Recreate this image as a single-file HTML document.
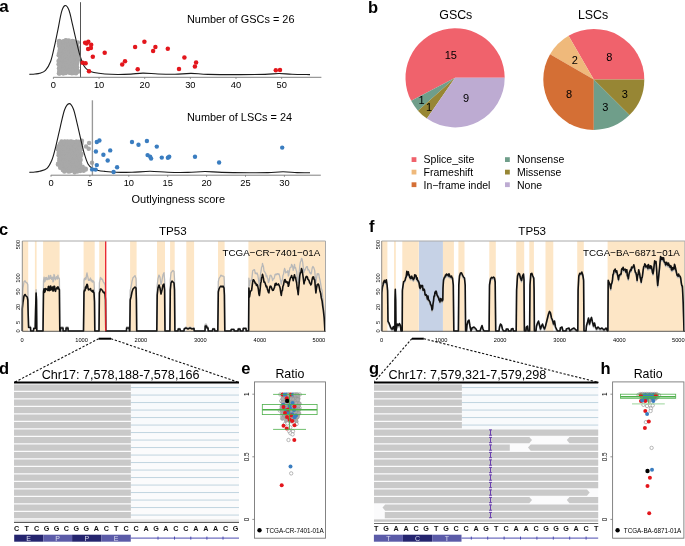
<!DOCTYPE html>
<html><head><meta charset="utf-8"><style>
html,body{margin:0;padding:0;background:#fff;}
svg{display:block;will-change:transform;}
text{font-family:"Liberation Sans", sans-serif;}
</style></head><body>
<svg width="685" height="546" viewBox="0 0 685 546" font-family="Liberation Sans, sans-serif">
<rect width="685" height="546" fill="#fff"/>
<text x="-0.8" y="11.6" font-size="17" text-anchor="start" font-weight="bold" fill="#000" >a</text>
<g fill="#a8a8a8"><circle cx="65.22" cy="41.27" r="2.25"/><circle cx="67.73" cy="41.49" r="2.25"/><circle cx="60.64" cy="42.1" r="2.25"/><circle cx="62.73" cy="42.44" r="2.25"/><circle cx="65.31" cy="42.68" r="2.25"/><circle cx="67.53" cy="43.01" r="2.25"/><circle cx="69.05" cy="43.14" r="2.25"/><circle cx="72.01" cy="43.24" r="2.25"/><circle cx="73.09" cy="42.32" r="2.25"/><circle cx="75.71" cy="42.89" r="2.25"/><circle cx="59.31" cy="44.47" r="2.25"/><circle cx="61.62" cy="44.75" r="2.25"/><circle cx="63.95" cy="45.23" r="2.25"/><circle cx="66.59" cy="44.87" r="2.25"/><circle cx="68.6" cy="45.28" r="2.25"/><circle cx="70.4" cy="44.93" r="2.25"/><circle cx="72.96" cy="44.73" r="2.25"/><circle cx="74.09" cy="45.12" r="2.25"/><circle cx="76.32" cy="45.05" r="2.25"/><circle cx="59.91" cy="46.25" r="2.25"/><circle cx="63.12" cy="45.9" r="2.25"/><circle cx="64.16" cy="46.85" r="2.25"/><circle cx="67.53" cy="47.21" r="2.25"/><circle cx="69.9" cy="46.28" r="2.25"/><circle cx="71.54" cy="45.89" r="2.25"/><circle cx="73.47" cy="46.7" r="2.25"/><circle cx="75.16" cy="47.06" r="2.25"/><circle cx="59.94" cy="49.01" r="2.25"/><circle cx="61.44" cy="48.48" r="2.25"/><circle cx="63.83" cy="48.54" r="2.25"/><circle cx="66.52" cy="48.47" r="2.25"/><circle cx="68.41" cy="48.09" r="2.25"/><circle cx="70.97" cy="48.49" r="2.25"/><circle cx="71.82" cy="48.34" r="2.25"/><circle cx="74.03" cy="48.62" r="2.25"/><circle cx="76.28" cy="48.63" r="2.25"/><circle cx="60.65" cy="50.16" r="2.25"/><circle cx="62.93" cy="49.7" r="2.25"/><circle cx="65.05" cy="51.02" r="2.25"/><circle cx="66.94" cy="50.5" r="2.25"/><circle cx="69.01" cy="50.11" r="2.25"/><circle cx="71.53" cy="50.09" r="2.25"/><circle cx="73.98" cy="49.71" r="2.25"/><circle cx="76.13" cy="50.1" r="2.25"/><circle cx="59.73" cy="51.92" r="2.25"/><circle cx="61.41" cy="52.56" r="2.25"/><circle cx="63.45" cy="52.05" r="2.25"/><circle cx="65.81" cy="52.78" r="2.25"/><circle cx="67.87" cy="52.49" r="2.25"/><circle cx="70.23" cy="51.9" r="2.25"/><circle cx="72.54" cy="51.85" r="2.25"/><circle cx="75.17" cy="51.84" r="2.25"/><circle cx="77.33" cy="52.48" r="2.25"/><circle cx="60.18" cy="53.68" r="2.25"/><circle cx="63.01" cy="53.88" r="2.25"/><circle cx="64.68" cy="54.09" r="2.25"/><circle cx="67.59" cy="53.72" r="2.25"/><circle cx="69.82" cy="54.73" r="2.25"/><circle cx="71.31" cy="54.83" r="2.25"/><circle cx="73.21" cy="54.54" r="2.25"/><circle cx="76.03" cy="54.22" r="2.25"/><circle cx="60.9" cy="56.24" r="2.25"/><circle cx="64.13" cy="55.48" r="2.25"/><circle cx="66.17" cy="56.71" r="2.25"/><circle cx="68.66" cy="56.22" r="2.25"/><circle cx="70.64" cy="55.65" r="2.25"/><circle cx="72.73" cy="56.15" r="2.25"/><circle cx="75.31" cy="56.27" r="2.25"/><circle cx="76.55" cy="56.62" r="2.25"/><circle cx="60.8" cy="57.82" r="2.25"/><circle cx="62.65" cy="58.47" r="2.25"/><circle cx="65.21" cy="58.62" r="2.25"/><circle cx="67.45" cy="57.34" r="2.25"/><circle cx="69.71" cy="57.4" r="2.25"/><circle cx="71.08" cy="58.06" r="2.25"/><circle cx="73.56" cy="58.41" r="2.25"/><circle cx="75.18" cy="57.5" r="2.25"/><circle cx="62" cy="59.36" r="2.25"/><circle cx="63.44" cy="59.68" r="2.25"/><circle cx="66.11" cy="60.06" r="2.25"/><circle cx="67.67" cy="59.7" r="2.25"/><circle cx="70.38" cy="60.24" r="2.25"/><circle cx="71.91" cy="59.49" r="2.25"/><circle cx="74.85" cy="60.34" r="2.25"/><circle cx="77.32" cy="60.11" r="2.25"/><circle cx="60.22" cy="61.85" r="2.25"/><circle cx="62.49" cy="62.13" r="2.25"/><circle cx="64.44" cy="61.9" r="2.25"/><circle cx="66.4" cy="61.75" r="2.25"/><circle cx="69.73" cy="62.47" r="2.25"/><circle cx="71.96" cy="62.26" r="2.25"/><circle cx="73.55" cy="61.33" r="2.25"/><circle cx="76.03" cy="62.4" r="2.25"/><circle cx="59.53" cy="64.1" r="2.25"/><circle cx="60.94" cy="63.89" r="2.25"/><circle cx="63.2" cy="64.15" r="2.25"/><circle cx="65.33" cy="63.21" r="2.25"/><circle cx="67.65" cy="63.1" r="2.25"/><circle cx="69.77" cy="64.25" r="2.25"/><circle cx="72.97" cy="64.4" r="2.25"/><circle cx="75.12" cy="63.12" r="2.25"/><circle cx="76.92" cy="64.07" r="2.25"/><circle cx="60.75" cy="66.29" r="2.25"/><circle cx="62.35" cy="65.77" r="2.25"/><circle cx="64.44" cy="65.23" r="2.25"/><circle cx="67.16" cy="66.04" r="2.25"/><circle cx="69.01" cy="65.54" r="2.25"/><circle cx="71.29" cy="65.1" r="2.25"/><circle cx="74.26" cy="65.56" r="2.25"/><circle cx="75.32" cy="65.95" r="2.25"/><circle cx="59.54" cy="67.62" r="2.25"/><circle cx="61.7" cy="68.15" r="2.25"/><circle cx="63.13" cy="67.94" r="2.25"/><circle cx="65.92" cy="67.52" r="2.25"/><circle cx="67.66" cy="67.27" r="2.25"/><circle cx="70.42" cy="67.34" r="2.25"/><circle cx="72.77" cy="68.23" r="2.25"/><circle cx="74.99" cy="67.47" r="2.25"/><circle cx="77.02" cy="67.27" r="2.25"/><circle cx="59.73" cy="69.48" r="2.25"/><circle cx="62.14" cy="69.31" r="2.25"/><circle cx="65.18" cy="69.01" r="2.25"/><circle cx="66.97" cy="69.65" r="2.25"/><circle cx="69.67" cy="69.96" r="2.25"/><circle cx="71.37" cy="69.82" r="2.25"/><circle cx="73.46" cy="69.84" r="2.25"/><circle cx="75.75" cy="69.13" r="2.25"/><circle cx="59.6" cy="71.67" r="2.25"/><circle cx="62" cy="71.06" r="2.25"/><circle cx="63.36" cy="70.99" r="2.25"/><circle cx="66.4" cy="71.98" r="2.25"/><circle cx="68.61" cy="71.16" r="2.25"/><circle cx="70.62" cy="70.84" r="2.25"/><circle cx="72.97" cy="71.13" r="2.25"/><circle cx="74.81" cy="71.67" r="2.25"/><circle cx="60.38" cy="72.93" r="2.25"/><circle cx="63.24" cy="73.19" r="2.25"/><circle cx="64.27" cy="73.02" r="2.25"/><circle cx="69.77" cy="72.77" r="2.25"/><circle cx="73.96" cy="73.05" r="2.25"/><circle cx="58.88" cy="41.46" r="2.25"/><circle cx="63.31" cy="41.26" r="2.25"/><circle cx="65.72" cy="40.2" r="2.25"/><circle cx="68.81" cy="40.58" r="2.25"/><circle cx="72.39" cy="41.12" r="2.25"/><circle cx="74.12" cy="41.43" r="2.25"/><circle cx="77.86" cy="42.44" r="2.25"/><circle cx="77.04" cy="45.87" r="2.25"/><circle cx="77.91" cy="47.45" r="2.25"/><circle cx="78.43" cy="50.45" r="2.25"/><circle cx="77.36" cy="54.46" r="2.25"/><circle cx="77.86" cy="57.13" r="2.25"/><circle cx="77.97" cy="59.92" r="2.25"/><circle cx="77.21" cy="62.42" r="2.25"/><circle cx="76.62" cy="66.39" r="2.25"/><circle cx="76.96" cy="69.78" r="2.25"/><circle cx="76.03" cy="73.15" r="2.25"/><circle cx="71.92" cy="73.19" r="2.25"/><circle cx="69.75" cy="72.58" r="2.25"/><circle cx="65.83" cy="72.94" r="2.25"/><circle cx="63.04" cy="73.14" r="2.25"/><circle cx="59" cy="73.23" r="2.25"/><circle cx="59.37" cy="70.94" r="2.25"/><circle cx="59.04" cy="68.13" r="2.25"/><circle cx="58.6" cy="64.15" r="2.25"/><circle cx="58.58" cy="60.92" r="2.25"/><circle cx="59.8" cy="59.08" r="2.25"/><circle cx="58.73" cy="55.17" r="2.25"/><circle cx="59.15" cy="53.22" r="2.25"/><circle cx="59.87" cy="50.28" r="2.25"/><circle cx="59.47" cy="46.25" r="2.25"/><circle cx="59.12" cy="43.39" r="2.25"/><circle cx="78.6" cy="71.6" r="2.25"/><circle cx="59.3" cy="40.9" r="2.25"/><circle cx="59.3" cy="73.6" r="2.25"/><circle cx="66.5" cy="40.7" r="2.25"/></g>
<path d="M29.4,74.4 C30.33,74.33 33.28,74.18 35,74 C36.72,73.82 37.95,73.92 39.7,73.3 C41.45,72.68 43.68,72.27 45.5,70.3 C47.32,68.33 49.13,65.4 50.6,61.5 C52.07,57.6 53.07,52.27 54.3,46.9 C55.53,41.53 56.78,35.17 58,29.3 C59.22,23.43 60.43,15.65 61.6,11.7 C62.77,7.75 63.77,5.83 65,5.6 C66.23,5.37 67.73,7.08 69,10.3 C70.27,13.52 71.38,19.78 72.6,24.9 C73.82,30.02 75.07,35.87 76.3,41 C77.53,46.13 78.78,51.67 80,55.7 C81.22,59.73 82.27,62.77 83.6,65.2 C84.93,67.63 86.28,69.08 88,70.3 C89.72,71.52 91.08,71.88 93.9,72.5 C96.72,73.12 100.88,73.67 104.9,74 C108.92,74.33 113.65,74.48 118,74.5 C122.35,74.52 126.83,74.33 131,74.1 C135.17,73.87 138.5,73.12 143,73.1 C147.5,73.08 152.67,73.8 158,74 C163.33,74.2 169.5,74.4 175,74.3 C180.5,74.2 185.5,73.38 191,73.4 C196.5,73.42 199.83,74.2 208,74.4 C216.17,74.6 230.5,74.6 240,74.6 C249.5,74.6 258.5,74.58 265,74.4 C271.5,74.22 274.5,73.52 279,73.5 C283.5,73.48 286.83,74.12 292,74.3 C297.17,74.48 307,74.55 310,74.6" fill="none" stroke="#1a1a1a" stroke-width="1.1"/>
<line x1="80.5" y1="2.2" x2="80.5" y2="77.3" stroke="#555" stroke-width="1"/>
<g fill="#e3161c"><circle cx="86.6" cy="43.6" r="2.25"/><circle cx="85.1" cy="42.8" r="2.25"/><circle cx="88.3" cy="41.8" r="2.25"/><circle cx="91.2" cy="44.7" r="2.25"/><circle cx="90.9" cy="47.9" r="2.25"/><circle cx="88.1" cy="49.1" r="2.25"/><circle cx="92.8" cy="56.8" r="2.25"/><circle cx="104.7" cy="52.8" r="2.25"/><circle cx="82.6" cy="62.7" r="2.25"/><circle cx="85.6" cy="63.2" r="2.25"/><circle cx="89" cy="71.2" r="2.25"/><circle cx="122.2" cy="64.5" r="2.25"/><circle cx="125" cy="61.2" r="2.25"/><circle cx="135.1" cy="47" r="2.25"/><circle cx="144.4" cy="41.8" r="2.25"/><circle cx="155.4" cy="47" r="2.25"/><circle cx="153.1" cy="50.9" r="2.25"/><circle cx="167.8" cy="48.8" r="2.25"/><circle cx="137.7" cy="69.2" r="2.25"/><circle cx="179" cy="68.9" r="2.25"/><circle cx="184.4" cy="57.5" r="2.25"/><circle cx="196.1" cy="62.6" r="2.25"/><circle cx="194.9" cy="66.6" r="2.25"/><circle cx="275.8" cy="70.3" r="2.25"/><circle cx="280" cy="70.1" r="2.25"/></g>
<line x1="53.3" y1="77.3" x2="321.4" y2="77.3" stroke="#808080" stroke-width="1"/>
<line x1="53.4" y1="77.3" x2="53.4" y2="78.8" stroke="#808080" stroke-width="1"/>
<text x="53.4" y="87.5" font-size="9.3" text-anchor="middle" fill="#000" >0</text>
<line x1="99.05" y1="77.3" x2="99.05" y2="78.8" stroke="#808080" stroke-width="1"/>
<text x="99.05" y="87.5" font-size="9.3" text-anchor="middle" fill="#000" >10</text>
<line x1="144.7" y1="77.3" x2="144.7" y2="78.8" stroke="#808080" stroke-width="1"/>
<text x="144.7" y="87.5" font-size="9.3" text-anchor="middle" fill="#000" >20</text>
<line x1="190.35" y1="77.3" x2="190.35" y2="78.8" stroke="#808080" stroke-width="1"/>
<text x="190.35" y="87.5" font-size="9.3" text-anchor="middle" fill="#000" >30</text>
<line x1="236" y1="77.3" x2="236" y2="78.8" stroke="#808080" stroke-width="1"/>
<text x="236" y="87.5" font-size="9.3" text-anchor="middle" fill="#000" >40</text>
<line x1="281.65" y1="77.3" x2="281.65" y2="78.8" stroke="#808080" stroke-width="1"/>
<text x="281.65" y="87.5" font-size="9.3" text-anchor="middle" fill="#000" >50</text>
<text x="187" y="22.6" font-size="10.9" text-anchor="start" fill="#000" >Number of GSCs = 26</text>
<g fill="#a8a8a8"><circle cx="62.74" cy="141.89" r="2.25"/><circle cx="64.55" cy="141.92" r="2.25"/><circle cx="71.26" cy="141.4" r="2.25"/><circle cx="76.18" cy="141.67" r="2.25"/><circle cx="81.5" cy="141.82" r="2.25"/><circle cx="61.95" cy="143.27" r="2.25"/><circle cx="63.09" cy="143.83" r="2.25"/><circle cx="66.35" cy="143.77" r="2.25"/><circle cx="67.71" cy="142.75" r="2.25"/><circle cx="69.49" cy="142.94" r="2.25"/><circle cx="71.6" cy="143.46" r="2.25"/><circle cx="74.23" cy="143.66" r="2.25"/><circle cx="76.44" cy="143.19" r="2.25"/><circle cx="78.28" cy="143.88" r="2.25"/><circle cx="81.45" cy="143.7" r="2.25"/><circle cx="60.84" cy="144.7" r="2.25"/><circle cx="63" cy="145.75" r="2.25"/><circle cx="64.4" cy="145.16" r="2.25"/><circle cx="66.25" cy="145.48" r="2.25"/><circle cx="69.5" cy="144.48" r="2.25"/><circle cx="70.63" cy="144.91" r="2.25"/><circle cx="73.99" cy="144.9" r="2.25"/><circle cx="75.66" cy="144.87" r="2.25"/><circle cx="77.35" cy="144.54" r="2.25"/><circle cx="80.26" cy="145.82" r="2.25"/><circle cx="61.76" cy="146.98" r="2.25"/><circle cx="62.88" cy="147.62" r="2.25"/><circle cx="65.69" cy="147.52" r="2.25"/><circle cx="68.22" cy="147.67" r="2.25"/><circle cx="70.5" cy="146.49" r="2.25"/><circle cx="71.81" cy="147.52" r="2.25"/><circle cx="74.43" cy="147.74" r="2.25"/><circle cx="77.37" cy="146.98" r="2.25"/><circle cx="79.22" cy="147.01" r="2.25"/><circle cx="59.62" cy="148.64" r="2.25"/><circle cx="62.91" cy="148.76" r="2.25"/><circle cx="64.98" cy="149.23" r="2.25"/><circle cx="67.16" cy="148.76" r="2.25"/><circle cx="68.69" cy="148.94" r="2.25"/><circle cx="71.47" cy="148.67" r="2.25"/><circle cx="73.61" cy="149.07" r="2.25"/><circle cx="75.67" cy="148.61" r="2.25"/><circle cx="77.75" cy="149.4" r="2.25"/><circle cx="80.42" cy="148.74" r="2.25"/><circle cx="59.62" cy="151.13" r="2.25"/><circle cx="61.94" cy="150.9" r="2.25"/><circle cx="63.03" cy="151.34" r="2.25"/><circle cx="65.67" cy="151.14" r="2.25"/><circle cx="68.22" cy="150.41" r="2.25"/><circle cx="70.21" cy="151.1" r="2.25"/><circle cx="72.47" cy="151.25" r="2.25"/><circle cx="74.81" cy="150.21" r="2.25"/><circle cx="76.62" cy="151.08" r="2.25"/><circle cx="79.16" cy="151.05" r="2.25"/><circle cx="60.15" cy="152.62" r="2.25"/><circle cx="62.53" cy="152.42" r="2.25"/><circle cx="63.9" cy="152.65" r="2.25"/><circle cx="66.67" cy="152.25" r="2.25"/><circle cx="68.82" cy="152.13" r="2.25"/><circle cx="70.63" cy="152.85" r="2.25"/><circle cx="73.51" cy="153.43" r="2.25"/><circle cx="75.49" cy="153.22" r="2.25"/><circle cx="77.62" cy="152.28" r="2.25"/><circle cx="80.09" cy="153.42" r="2.25"/><circle cx="61.46" cy="154.19" r="2.25"/><circle cx="64.05" cy="154.52" r="2.25"/><circle cx="65.32" cy="154.41" r="2.25"/><circle cx="67.73" cy="155.34" r="2.25"/><circle cx="70.23" cy="154.36" r="2.25"/><circle cx="72.29" cy="154.58" r="2.25"/><circle cx="75.18" cy="154.69" r="2.25"/><circle cx="76.67" cy="154.17" r="2.25"/><circle cx="78.82" cy="154.41" r="2.25"/><circle cx="62.11" cy="156.76" r="2.25"/><circle cx="64.8" cy="156.76" r="2.25"/><circle cx="66.27" cy="156.98" r="2.25"/><circle cx="69.05" cy="156.38" r="2.25"/><circle cx="71.24" cy="156.56" r="2.25"/><circle cx="73.74" cy="156.74" r="2.25"/><circle cx="75.25" cy="156.55" r="2.25"/><circle cx="78.34" cy="156.68" r="2.25"/><circle cx="80.39" cy="156.51" r="2.25"/><circle cx="61.79" cy="158.1" r="2.25"/><circle cx="63.96" cy="157.92" r="2.25"/><circle cx="65.97" cy="158.43" r="2.25"/><circle cx="68.29" cy="159.1" r="2.25"/><circle cx="70.07" cy="158.59" r="2.25"/><circle cx="72.06" cy="158.04" r="2.25"/><circle cx="74.94" cy="157.92" r="2.25"/><circle cx="77.15" cy="158.93" r="2.25"/><circle cx="78.24" cy="158.84" r="2.25"/><circle cx="59.69" cy="160.15" r="2.25"/><circle cx="61.91" cy="160.59" r="2.25"/><circle cx="64.13" cy="160.61" r="2.25"/><circle cx="66.25" cy="160.27" r="2.25"/><circle cx="68.38" cy="160.55" r="2.25"/><circle cx="71.73" cy="159.93" r="2.25"/><circle cx="73.14" cy="160.58" r="2.25"/><circle cx="76.21" cy="160.26" r="2.25"/><circle cx="78.08" cy="159.95" r="2.25"/><circle cx="80.01" cy="161.01" r="2.25"/><circle cx="59.45" cy="162.38" r="2.25"/><circle cx="60.93" cy="162.17" r="2.25"/><circle cx="63.05" cy="162.65" r="2.25"/><circle cx="65.12" cy="162.59" r="2.25"/><circle cx="67.37" cy="162.49" r="2.25"/><circle cx="70.63" cy="162.33" r="2.25"/><circle cx="72.72" cy="161.7" r="2.25"/><circle cx="73.88" cy="161.87" r="2.25"/><circle cx="76.95" cy="161.97" r="2.25"/><circle cx="58.16" cy="164.06" r="2.25"/><circle cx="59.69" cy="164.73" r="2.25"/><circle cx="62.83" cy="164.17" r="2.25"/><circle cx="64.62" cy="164.4" r="2.25"/><circle cx="67.14" cy="164.12" r="2.25"/><circle cx="68.35" cy="163.85" r="2.25"/><circle cx="71.74" cy="164.24" r="2.25"/><circle cx="72.7" cy="164.23" r="2.25"/><circle cx="75.77" cy="164.17" r="2.25"/><circle cx="77.24" cy="163.78" r="2.25"/><circle cx="60.93" cy="166.16" r="2.25"/><circle cx="64.09" cy="166" r="2.25"/><circle cx="65.96" cy="166.43" r="2.25"/><circle cx="68.52" cy="165.65" r="2.25"/><circle cx="69.81" cy="166.43" r="2.25"/><circle cx="71.83" cy="165.76" r="2.25"/><circle cx="74.12" cy="165.59" r="2.25"/><circle cx="77.36" cy="165.99" r="2.25"/><circle cx="78.86" cy="165.88" r="2.25"/><circle cx="62.79" cy="167.97" r="2.25"/><circle cx="64.67" cy="168.78" r="2.25"/><circle cx="66.59" cy="167.53" r="2.25"/><circle cx="69.56" cy="168.08" r="2.25"/><circle cx="70.58" cy="167.74" r="2.25"/><circle cx="73.26" cy="167.48" r="2.25"/><circle cx="75.47" cy="167.82" r="2.25"/><circle cx="77.15" cy="168.76" r="2.25"/><circle cx="80.01" cy="167.96" r="2.25"/><circle cx="81.62" cy="167.84" r="2.25"/><circle cx="84.46" cy="168.69" r="2.25"/><circle cx="63.48" cy="170.11" r="2.25"/><circle cx="65.88" cy="170.33" r="2.25"/><circle cx="67.63" cy="169.94" r="2.25"/><circle cx="69.71" cy="169.47" r="2.25"/><circle cx="71.72" cy="170.39" r="2.25"/><circle cx="74.24" cy="169.49" r="2.25"/><circle cx="76.34" cy="169.43" r="2.25"/><circle cx="79.01" cy="169.65" r="2.25"/><circle cx="81.38" cy="169.38" r="2.25"/><circle cx="83" cy="169.83" r="2.25"/><circle cx="61.45" cy="141.4" r="2.25"/><circle cx="64.73" cy="141.58" r="2.25"/><circle cx="67.5" cy="141.43" r="2.25"/><circle cx="69.94" cy="141.87" r="2.25"/><circle cx="73.34" cy="142.12" r="2.25"/><circle cx="76.48" cy="141.66" r="2.25"/><circle cx="78.67" cy="141.86" r="2.25"/><circle cx="81.89" cy="140.63" r="2.25"/><circle cx="80.57" cy="144.05" r="2.25"/><circle cx="80.17" cy="148.32" r="2.25"/><circle cx="80.39" cy="150.21" r="2.25"/><circle cx="81.42" cy="154.1" r="2.25"/><circle cx="80.27" cy="156.19" r="2.25"/><circle cx="80.63" cy="159.74" r="2.25"/><circle cx="80.1" cy="163.41" r="2.25"/><circle cx="77.8" cy="164.72" r="2.25"/><circle cx="80.14" cy="166.15" r="2.25"/><circle cx="82.63" cy="166.72" r="2.25"/><circle cx="85.75" cy="169.39" r="2.25"/><circle cx="83.61" cy="170.87" r="2.25"/><circle cx="80.14" cy="171.01" r="2.25"/><circle cx="77.34" cy="171.5" r="2.25"/><circle cx="74.64" cy="172.13" r="2.25"/><circle cx="70.05" cy="171.27" r="2.25"/><circle cx="68.36" cy="171.53" r="2.25"/><circle cx="64.38" cy="171.49" r="2.25"/><circle cx="62.81" cy="170.02" r="2.25"/><circle cx="60.23" cy="167.71" r="2.25"/><circle cx="58.17" cy="163.79" r="2.25"/><circle cx="59.67" cy="161.11" r="2.25"/><circle cx="59.39" cy="158.86" r="2.25"/><circle cx="58.63" cy="155.31" r="2.25"/><circle cx="58.7" cy="153.02" r="2.25"/><circle cx="57.81" cy="148.99" r="2.25"/><circle cx="58.6" cy="146.23" r="2.25"/><circle cx="60.11" cy="143.78" r="2.25"/><circle cx="89.1" cy="143" r="2.25"/><circle cx="86" cy="146.5" r="2.25"/><circle cx="88.7" cy="148.7" r="2.25"/><circle cx="92" cy="162.8" r="2.25"/><circle cx="85.6" cy="168.8" r="2.25"/><circle cx="58" cy="164.5" r="2.25"/><circle cx="58" cy="149.5" r="2.25"/></g>
<path d="M29.4,172.4 C30.33,172.33 33.28,172.18 35,172 C36.72,171.82 37.7,171.92 39.7,171.3 C41.7,170.68 44.93,170.27 47,168.3 C49.07,166.33 50.63,163.15 52.1,159.5 C53.57,155.85 54.45,151.77 55.8,146.4 C57.15,141.03 58.73,133.42 60.2,127.3 C61.67,121.18 63.1,113.65 64.6,109.7 C66.1,105.75 67.73,103.72 69.2,103.6 C70.67,103.48 72.1,105.78 73.4,109 C74.7,112.22 75.78,117.9 77,122.9 C78.22,127.9 79.48,133.87 80.7,139 C81.92,144.13 83.08,149.55 84.3,153.7 C85.52,157.85 86.65,161.47 88,163.9 C89.35,166.33 90.68,167.2 92.4,168.3 C94.12,169.4 96.22,169.98 98.3,170.5 C100.38,171.02 101.95,171.12 104.9,171.4 C107.85,171.68 111.48,172.05 116,172.2 C120.52,172.35 126.33,172.45 132,172.3 C137.67,172.15 144,171.3 150,171.3 C156,171.3 161.67,172.12 168,172.3 C174.33,172.48 181.83,172.53 188,172.4 C194.17,172.27 199.33,171.5 205,171.5 C210.67,171.5 214.5,172.2 222,172.4 C229.5,172.6 242.33,172.67 250,172.7 C257.67,172.73 262.5,172.75 268,172.6 C273.5,172.45 278.17,171.8 283,171.8 C287.83,171.8 292.5,172.43 297,172.6 C301.5,172.77 307.83,172.77 310,172.8" fill="none" stroke="#1a1a1a" stroke-width="1.1"/>
<line x1="92.4" y1="100.3" x2="92.4" y2="175.2" stroke="#999" stroke-width="1.35"/>
<g fill="#3a7dc0"><circle cx="96.8" cy="142" r="2.2"/><circle cx="99.4" cy="140.5" r="2.2"/><circle cx="95.9" cy="151.5" r="2.2"/><circle cx="103.4" cy="154.8" r="2.2"/><circle cx="110.2" cy="150.4" r="2.2"/><circle cx="107.7" cy="160.5" r="2.2"/><circle cx="96.8" cy="165.1" r="2.2"/><circle cx="92.1" cy="169.4" r="2.2"/><circle cx="95.6" cy="169.6" r="2.2"/><circle cx="117.1" cy="167.2" r="2.2"/><circle cx="113.6" cy="172" r="2.2"/><circle cx="132" cy="142" r="2.2"/><circle cx="138.5" cy="144.7" r="2.2"/><circle cx="146.9" cy="141" r="2.2"/><circle cx="156.8" cy="146.6" r="2.2"/><circle cx="147.6" cy="155.1" r="2.2"/><circle cx="150.1" cy="156.6" r="2.2"/><circle cx="151.1" cy="158.6" r="2.2"/><circle cx="161.8" cy="157.6" r="2.2"/><circle cx="167.9" cy="157.8" r="2.2"/><circle cx="169.2" cy="156.8" r="2.2"/><circle cx="195" cy="156.8" r="2.2"/><circle cx="219.1" cy="162.5" r="2.2"/><circle cx="282.2" cy="147.6" r="2.2"/></g>
<line x1="50.8" y1="175.2" x2="320.8" y2="175.2" stroke="#808080" stroke-width="1"/>
<line x1="51" y1="175.2" x2="51" y2="176.7" stroke="#808080" stroke-width="1"/>
<text x="51" y="185.6" font-size="9.3" text-anchor="middle" fill="#000" >0</text>
<line x1="89.9" y1="175.2" x2="89.9" y2="176.7" stroke="#808080" stroke-width="1"/>
<text x="89.9" y="185.6" font-size="9.3" text-anchor="middle" fill="#000" >5</text>
<line x1="128.8" y1="175.2" x2="128.8" y2="176.7" stroke="#808080" stroke-width="1"/>
<text x="128.8" y="185.6" font-size="9.3" text-anchor="middle" fill="#000" >10</text>
<line x1="167.7" y1="175.2" x2="167.7" y2="176.7" stroke="#808080" stroke-width="1"/>
<text x="167.7" y="185.6" font-size="9.3" text-anchor="middle" fill="#000" >15</text>
<line x1="206.6" y1="175.2" x2="206.6" y2="176.7" stroke="#808080" stroke-width="1"/>
<text x="206.6" y="185.6" font-size="9.3" text-anchor="middle" fill="#000" >20</text>
<line x1="245.5" y1="175.2" x2="245.5" y2="176.7" stroke="#808080" stroke-width="1"/>
<text x="245.5" y="185.6" font-size="9.3" text-anchor="middle" fill="#000" >25</text>
<line x1="284.4" y1="175.2" x2="284.4" y2="176.7" stroke="#808080" stroke-width="1"/>
<text x="284.4" y="185.6" font-size="9.3" text-anchor="middle" fill="#000" >30</text>
<text x="187" y="121" font-size="10.9" text-anchor="start" fill="#000" >Number of LSCs = 24</text>
<text x="131.5" y="203" font-size="11" text-anchor="start" fill="#000" >Outlyingness score</text>
<text x="368" y="12.8" font-size="16.5" text-anchor="start" font-weight="bold" fill="#000" >b</text>
<text x="455.8" y="18.9" font-size="12.4" text-anchor="middle" fill="#000" >GSCs</text>
<text x="593.1" y="19.2" font-size="12.4" text-anchor="middle" fill="#000" >LSCs</text>
<path d="M455.1,77.8 L504.7,77.8 A49.6,49.6 0 1 0 411.18,100.85 Z" fill="#f0626c"/><path d="M455.1,77.8 L411.18,100.85 A49.6,49.6 0 0 0 417.97,110.69 Z" fill="#6f9e8a"/><path d="M455.1,77.8 L417.97,110.69 A49.6,49.6 0 0 0 426.92,118.62 Z" fill="#978634"/><path d="M455.1,77.8 L426.92,118.62 A49.6,49.6 0 0 0 504.7,77.8 Z" fill="#bdabd2"/>
<path d="M593.8,79.4 L644.3,79.4 A50.5,50.5 0 0 0 568.55,35.67 Z" fill="#f0626c"/><path d="M593.8,79.4 L568.55,35.67 A50.5,50.5 0 0 0 550.07,54.15 Z" fill="#efb97b"/><path d="M593.8,79.4 L550.07,54.15 A50.5,50.5 0 0 0 593.8,129.9 Z" fill="#d46f35"/><path d="M593.8,79.4 L593.8,129.9 A50.5,50.5 0 0 0 629.51,115.11 Z" fill="#6f9e8a"/><path d="M593.8,79.4 L629.51,115.11 A50.5,50.5 0 0 0 644.3,79.4 Z" fill="#978634"/>
<text x="450.8" y="59.3" font-size="11" text-anchor="middle" fill="#000" >15</text>
<text x="466" y="102.3" font-size="11" text-anchor="middle" fill="#000" >9</text>
<text x="421.5" y="104" font-size="11" text-anchor="middle" fill="#000" >1</text>
<text x="429.1" y="110.9" font-size="11" text-anchor="middle" fill="#000" >1</text>
<text x="609.2" y="61.2" font-size="11" text-anchor="middle" fill="#000" >8</text>
<text x="574.8" y="63.9" font-size="11" text-anchor="middle" fill="#000" >2</text>
<text x="569" y="98" font-size="11" text-anchor="middle" fill="#000" >8</text>
<text x="605.4" y="111.3" font-size="11" text-anchor="middle" fill="#000" >3</text>
<text x="624.7" y="97.6" font-size="11" text-anchor="middle" fill="#000" >3</text>
<rect x="411.6" y="157.2" width="4.8" height="4.8" fill="#f0626c"/>
<text x="423.6" y="163.4" font-size="10.5" text-anchor="start" fill="#000" >Splice_site</text>
<rect x="411.6" y="169.7" width="4.8" height="4.8" fill="#efb97b"/>
<text x="423.6" y="175.9" font-size="10.5" text-anchor="start" fill="#000" >Frameshift</text>
<rect x="411.6" y="182.3" width="4.8" height="4.8" fill="#d46f35"/>
<text x="423.6" y="188.5" font-size="10.5" text-anchor="start" fill="#000" >In−frame indel</text>
<rect x="505" y="157.2" width="4.8" height="4.8" fill="#6f9e8a"/>
<text x="517" y="163.4" font-size="10.5" text-anchor="start" fill="#000" >Nonsense</text>
<rect x="505" y="169.7" width="4.8" height="4.8" fill="#978634"/>
<text x="517" y="175.9" font-size="10.5" text-anchor="start" fill="#000" >Missense</text>
<rect x="505" y="182.3" width="4.8" height="4.8" fill="#bdabd2"/>
<text x="517" y="188.5" font-size="10.5" text-anchor="start" fill="#000" >None</text>
<text x="-1" y="234.6" font-size="16.5" text-anchor="start" font-weight="bold" fill="#000" >c</text>
<text x="172.8" y="235.1" font-size="11.6" text-anchor="middle" fill="#000" >TP53</text>
<rect x="22.3" y="241" width="5.9" height="90.3" fill="#fde6c6"/>
<rect x="34.9" y="241" width="1.7" height="90.3" fill="#fde6c6"/>
<rect x="43.1" y="241" width="16.5" height="90.3" fill="#fde6c6"/>
<rect x="83.6" y="241" width="11.1" height="90.3" fill="#fde6c6"/>
<rect x="99.2" y="241" width="6.1" height="90.3" fill="#fde6c6"/>
<rect x="130.1" y="241" width="6.5" height="90.3" fill="#fde6c6"/>
<rect x="157" y="241" width="8" height="90.3" fill="#fde6c6"/>
<rect x="170.1" y="241" width="4.6" height="90.3" fill="#fde6c6"/>
<rect x="186.3" y="241" width="7.8" height="90.3" fill="#fde6c6"/>
<rect x="218" y="241" width="6.6" height="90.3" fill="#fde6c6"/>
<rect x="248.4" y="241" width="77.1" height="90.3" fill="#fde6c6"/>
<path d="M22.3,331 L22.3,298.37 L23,287.98 L24,281.75 L25,280.78 L26,282.34 L27.2,283.15 L27.8,284.82 L28.2,307.27 L28.6,325.81 L30.5,326.27 L30.7,331 L33.5,331 L33.7,327.62 L35.2,328.17 L35.6,307.2 L36.1,289.65 L36.5,296.3 L36.8,331 L43,331 L43.5,281.02 L43.6,280.4 L44.09,277.09 L44.57,281.85 L45.06,281.28 L45.54,277.73 L46.03,279.78 L46.51,277.47 L47,278.83 L47.45,279.57 L47.91,279.51 L48.36,277.06 L48.82,275.33 L49.27,279.19 L49.73,278.28 L50.18,278.45 L50.64,275.35 L51.09,277.08 L51.55,279.33 L52,278.25 L52.5,277.19 L53,281.83 L53.5,281.14 L54,274.42 L54.5,275.64 L55,278.7 L55.5,279.79 L56,278.23 L56.49,276.69 L56.97,277.47 L57.46,279.03 L57.94,275.13 L58.43,278.23 L58.91,277.83 L59.4,278.75 L59.8,331 L60.5,331 L60.6,326.95 L63,326.95 L63.1,331 L66,331 L66.1,326.95 L68,326.95 L68.1,331 L83.5,331 L84,280.24 L84.5,278.35 L85,279.75 L85.5,277.7 L86,279.12 L86.5,275.07 L87,272.89 L87.5,275.78 L88,277.69 L88.5,280.42 L89,279.62 L89.5,280.34 L90,278.94 L90.5,278.03 L91,280.78 L91.5,279.76 L92,281.66 L92.5,282.14 L93,280.5 L93.5,281.92 L94,281.81 L94.5,291.85 L94.8,331 L99,331 L99.4,282.88 L100,279.99 L100.5,277.33 L101,279.46 L101.5,278.23 L102,279.24 L102.5,279.33 L103,281.22 L103.5,282.16 L104,282.55 L104.5,283.94 L105,284.35 L105.5,290.34 L105.8,331 L126.5,331 L126.6,326.95 L129.2,326.95 L129.4,331 L129.8,331 L130.2,290.42 L131,287.26 L132,281.34 L133,277.8 L134,276.73 L135,275.6 L136,278.5 L136.4,288.66 L136.7,331 L156.8,331 L157.2,285.32 L158,278.61 L159,275.05 L160,277.28 L161,284.68 L162,280.24 L163,274.76 L164,272.66 L164.6,279.76 L165,331 L169.9,331 L170.3,279.72 L171,272.84 L172,271.56 L173,270.51 L174,271.4 L174.5,278.92 L174.9,331 L178,331 L178.2,328.3 L180,328.3 L180.2,331 L184,331 L184.2,328.3 L186,326.95 L188,328.3 L190,326.95 L192,328.3 L194,327.62 L194.2,331 L205,331 L205.2,324.25 L206.5,324.25 L207,326.95 L208,326.95 L208.2,331 L212.5,331 L212.7,328.3 L214.5,328.3 L214.7,331 L217.8,331 L218.3,281.76 L219,278.65 L220,276.99 L221,275.1 L222,276.1 L223,275.99 L224,276.53 L224.4,283.93 L224.8,331 L231,331 L231.2,328.98 L234,328.98 L234.2,331 L238,331 L238.2,328.3 L240,328.3 L240.2,331 L243,331 L243.2,327.62 L246,327.62 L246.2,331 L248.6,330.59 L248.9,278.23 L249.5,285.7 L250.4,280.35 L251.6,280.55 L252.13,276.06 L252.67,270.9 L253.2,270.29 L253.85,269.89 L254.5,269.69 L255.3,273.53 L255.9,272.89 L256.5,273.94 L257.15,273.1 L257.8,275.05 L258.33,278.45 L258.87,282.03 L259.4,285.53 L260.05,278.63 L260.7,272.74 L261.15,270.75 L261.6,267.06 L262.05,266.73 L262.5,263.44 L263,265.55 L263.5,266.83 L264,271.27 L264.53,271.48 L265.07,272.81 L265.6,273.19 L266.2,276.71 L266.8,275.37 L267.32,277.95 L267.85,278.83 L268.38,282.47 L268.9,281.97 L269.5,279.02 L270.1,275.44 L270.75,275.26 L271.4,276.07 L272,277.74 L272.6,280.6 L273.25,278.87 L273.9,278.7 L274.5,277.2 L275.1,274.41 L275.63,274.75 L276.17,273.97 L276.7,274.69 L277.27,273.81 L277.83,273.55 L278.4,274.26 L279,273.88 L279.6,275.95 L280.17,278.61 L280.73,281.14 L281.3,284.28 L281.83,280.69 L282.37,280.08 L282.9,275.49 L283.47,274.38 L284.03,270.86 L284.6,268.5 L285.13,269.93 L285.67,272.83 L286.2,271.93 L286.77,271.89 L287.33,272.39 L287.9,270.5 L288.3,276.02 L288.83,275.01 L289.37,271.28 L289.9,268.03 L290.47,267.34 L291.03,267.3 L291.6,264.43 L292.13,265.28 L292.67,266.63 L293.2,270.36 L293.85,267.46 L294.5,264.4 L295.03,268.16 L295.57,267.73 L296.1,270.24 L296.62,271.3 L297.15,276.96 L297.68,280.14 L298.2,282.92 L298.73,278.71 L299.27,271.99 L299.8,265.69 L300.37,262.1 L300.93,260.94 L301.5,258.41 L302.1,259.02 L302.7,262.36 L303.35,268.24 L304,272.38 L304.53,269.54 L305.07,270 L305.6,268.46 L306.2,267.17 L306.8,266.58 L307.37,266.66 L307.93,270.12 L308.5,269.64 L309.1,270.32 L309.7,272.93 L310.27,272.37 L310.83,274.16 L311.4,273.31 L311.93,269.47 L312.47,267.11 L313,266.52 L313.57,267.31 L314.13,268.82 L314.7,270.38 L315.3,277.36 L315.9,282.81 L316.55,278.2 L317.2,273.54 L317.73,274.7 L318.27,273.64 L318.8,274.09 L319.4,277.79 L320,280.01 L320.65,283.7 L321.3,288.25 L322.1,290.5 L322.7,297.39 L323.3,302.65 L324.2,313.45 L324.9,330.59 L325.5,331" fill="none" stroke="#b8b8b8" stroke-width="1.3" stroke-linejoin="round"/>
<path d="M22.3,331 L22.3,309 L23,302 L24,296 L25,294.5 L26,296 L27.2,297 L27.8,300 L28.2,315 L28.6,327.5 L30.5,327.5 L30.7,331 L33.5,331 L33.7,328.5 L35.2,328.5 L35.6,310 L36.1,293 L36.5,300 L36.8,331 L43,331 L43.5,292 L43.6,291 L44.09,288.73 L44.57,292.32 L45.06,291.58 L45.54,288.52 L46.03,289.55 L46.51,289.01 L47,289 L47.45,289.78 L47.91,290.48 L48.36,286.65 L48.82,286.25 L49.27,290.6 L49.73,288.36 L50.18,290.11 L50.64,285.93 L51.09,288.29 L51.55,289.75 L52,288.5 L52.5,287.09 L53,291.05 L53.5,290.87 L54,286.2 L54.5,286.23 L55,289.1 L55.5,291.33 L56,289 L56.49,288.43 L56.97,287.6 L57.46,288.79 L57.94,286.72 L58.43,287.84 L58.91,289.09 L59.4,289.5 L59.8,331 L60.5,331 L60.6,328 L63,328 L63.1,331 L66,331 L66.1,328 L68,328 L68.1,331 L83.5,331 L84,292 L84.5,290 L85,290.67 L85.5,287 L86,288.38 L86.5,285.5 L87,284.22 L87.5,285.19 L88,288 L88.5,289.85 L89,289.62 L89.5,289.56 L90,289 L90.5,288.59 L91,290.5 L91.5,291.01 L92,291 L92.5,291.89 L93,290.37 L93.5,292.17 L94,293 L94.5,302 L94.8,331 L99,331 L99.4,293 L100,291 L100.5,288.93 L101,289 L101.5,289.68 L102,290 L102.5,290.47 L103,292 L103.5,292.42 L104,292 L104.5,293.51 L105,294 L105.5,300 L105.8,331 L126.5,331 L126.6,328 L129.2,328 L129.4,331 L129.8,331 L130.2,300 L131,297 L132,292 L133,289 L134,288 L135,287 L136,288 L136.4,300 L136.7,331 L156.8,331 L157.2,295 L158,288 L159,285 L160,288 L161,294 L162,290 L163,285 L164,284 L164.6,290 L165,331 L169.9,331 L170.3,290 L171,283 L172,281 L173,282 L174,283 L174.5,290 L174.9,331 L178,331 L178.2,329 L180,329 L180.2,331 L184,331 L184.2,329 L186,328 L188,329 L190,328 L192,329 L194,328.5 L194.2,331 L205,331 L205.2,326 L206.5,326 L207,328 L208,328 L208.2,331 L212.5,331 L212.7,329 L214.5,329 L214.7,331 L217.8,331 L218.3,292 L219,289 L220,287 L221,286 L222,287 L223,286 L224,288 L224.4,295 L224.8,331 L231,331 L231.2,329.5 L234,329.5 L234.2,331 L238,331 L238.2,329 L240,329 L240.2,331 L243,331 L243.2,328.5 L246,328.5 L246.2,331 L248.6,330.7 L248.9,288 L249.5,297 L250.4,291.3 L251.6,290.4 L252.13,286.03 L252.67,282.05 L253.2,279.7 L253.85,280.23 L254.5,281.4 L255.3,283.4 L255.9,283.39 L256.5,285.5 L257.15,284.57 L257.8,286.3 L258.33,289.03 L258.87,293.65 L259.4,295.4 L260.05,290.12 L260.7,283 L261.15,281.66 L261.6,277.85 L262.05,276.66 L262.5,274.4 L263,276.32 L263.5,278.6 L264,282.2 L264.53,281.83 L265.07,282.99 L265.6,284.7 L266.2,286.81 L266.8,286.3 L267.32,288.96 L267.85,290.54 L268.38,292.17 L268.9,292.9 L269.5,288.66 L270.1,286.3 L270.75,286.17 L271.4,287.2 L272,289.19 L272.6,290.4 L273.25,290.31 L273.9,288.8 L274.5,287.44 L275.1,283.9 L275.63,285.33 L276.17,283.17 L276.7,284.7 L277.27,284.76 L277.83,284.69 L278.4,283.9 L279,285.12 L279.6,286.3 L280.17,288.35 L280.73,292.29 L281.3,295.4 L281.83,291.11 L282.37,290.66 L282.9,286.3 L283.47,285.22 L284.03,282.05 L284.6,279.7 L285.13,279.66 L285.67,282.08 L286.2,281.4 L286.77,281.89 L287.33,283.1 L287.9,282.2 L288.3,286.3 L288.83,285.17 L289.37,281.93 L289.9,279.7 L290.47,278.07 L291.03,277.27 L291.6,275.6 L292.13,277.06 L292.67,277.9 L293.2,280.6 L293.85,277.1 L294.5,274.8 L295.03,277.69 L295.57,277.27 L296.1,280.6 L296.62,282.71 L297.15,287.99 L297.68,290.43 L298.2,294.6 L298.73,288.37 L299.27,281.85 L299.8,275.6 L300.37,272.79 L300.93,272.46 L301.5,268.6 L302.1,270.37 L302.7,274 L303.35,278.68 L304,283.9 L304.53,281.06 L305.07,280.44 L305.6,278.1 L306.2,276.57 L306.8,276.4 L307.37,277.06 L307.93,279.36 L308.5,279.7 L309.1,280.8 L309.7,283 L310.27,283.48 L310.83,284.84 L311.4,283.9 L311.93,280.31 L312.47,277.83 L313,276.8 L313.57,276.94 L314.13,279.54 L314.7,279.7 L315.3,286.65 L315.9,292.9 L316.55,288 L317.2,284.7 L317.73,284.32 L318.27,283.98 L318.8,285.1 L319.4,288.07 L320,291.3 L320.65,293.2 L321.3,297.9 L322.1,301 L322.7,306.1 L323.3,310 L324.2,318 L324.9,330.7 L325.5,331" fill="none" stroke="#111" stroke-width="1.6" stroke-linejoin="round"/>
<line x1="105.7" y1="241" x2="105.7" y2="331.3" stroke="#e8202a" stroke-width="1.3"/>
<path d="M22.3,241 L325.5,241 L325.5,331.3" fill="none" stroke="#aaa" stroke-width="1"/>
<line x1="22.3" y1="241" x2="22.3" y2="331.3" stroke="#777" stroke-width="0.8"/>
<line x1="22.3" y1="331.3" x2="325.5" y2="331.3" stroke="#333" stroke-width="0.8"/>
<text x="18.4" y="244.6" font-size="5.6" text-anchor="middle" transform="rotate(-90 18.4 244.6)" dominant-baseline="central">500</text>
<text x="18.4" y="278" font-size="5.6" text-anchor="middle" transform="rotate(-90 18.4 278)" dominant-baseline="central">100</text>
<text x="18.4" y="291.6" font-size="5.6" text-anchor="middle" transform="rotate(-90 18.4 291.6)" dominant-baseline="central">50</text>
<text x="18.4" y="307" font-size="5.6" text-anchor="middle" transform="rotate(-90 18.4 307)" dominant-baseline="central">20</text>
<text x="18.4" y="322.5" font-size="5.6" text-anchor="middle" transform="rotate(-90 18.4 322.5)" dominant-baseline="central">5</text>
<text x="18.4" y="331" font-size="5.6" text-anchor="middle" transform="rotate(-90 18.4 331)" dominant-baseline="central">0</text>
<text x="22.1" y="341.5" font-size="5.7" text-anchor="middle" fill="#000" >0</text>
<text x="81.6" y="341.5" font-size="5.7" text-anchor="middle" fill="#000" >1000</text>
<text x="140.8" y="341.5" font-size="5.7" text-anchor="middle" fill="#000" >2000</text>
<text x="200.3" y="341.5" font-size="5.7" text-anchor="middle" fill="#000" >3000</text>
<text x="259.9" y="341.5" font-size="5.7" text-anchor="middle" fill="#000" >4000</text>
<text x="318.9" y="341.5" font-size="5.7" text-anchor="middle" fill="#000" >5000</text>
<text x="320.3" y="256.2" font-size="9.8" text-anchor="end" fill="#000" >TCGA−CR−7401−01A</text>
<line x1="98.7" y1="338.7" x2="111" y2="338.7" stroke="#000" stroke-width="2"/>
<line x1="98.7" y1="338.7" x2="14.1" y2="382.5" stroke="#111" stroke-width="1.1" stroke-dasharray="2.3,1.7"/>
<line x1="111" y1="338.7" x2="239" y2="382.5" stroke="#111" stroke-width="1.1" stroke-dasharray="2.3,1.7"/>
<text x="369" y="232.1" font-size="16.5" text-anchor="start" font-weight="bold" fill="#000" >f</text>
<text x="532.2" y="235.1" font-size="11.6" text-anchor="middle" fill="#000" >TP53</text>
<rect x="381.5" y="241" width="5.9" height="90.3" fill="#fde6c6"/>
<rect x="394.1" y="241" width="1.7" height="90.3" fill="#fde6c6"/>
<rect x="402.3" y="241" width="16.5" height="90.3" fill="#fde6c6"/>
<rect x="442.8" y="241" width="11.1" height="90.3" fill="#fde6c6"/>
<rect x="458.4" y="241" width="6.1" height="90.3" fill="#fde6c6"/>
<rect x="489.3" y="241" width="6.5" height="90.3" fill="#fde6c6"/>
<rect x="516.2" y="241" width="8" height="90.3" fill="#fde6c6"/>
<rect x="529.3" y="241" width="4.6" height="90.3" fill="#fde6c6"/>
<rect x="545.5" y="241" width="7.8" height="90.3" fill="#fde6c6"/>
<rect x="577.2" y="241" width="6.6" height="90.3" fill="#fde6c6"/>
<rect x="607.6" y="241" width="77.1" height="90.3" fill="#fde6c6"/>
<rect x="419" y="241" width="23.9" height="90.3" fill="#c6d2e6"/>
<path d="M381.7,331 L381.8,294.2 L382.4,288.74 L383,286.6 L383.47,283.75 L383.93,283.17 L384.4,282 L385.2,284.1 L385.75,283.33 L386.3,281.3 L387.1,286.6 L387.6,292.2 L388,323 L388.9,324.3 L389.8,326.6 L390.8,329.4 L392.1,330.7 L393.4,328.1 L394.3,331 L394.9,331 L395,301.6 L395.3,291 L395.7,301.6 L396,331 L397.2,325.6 L398.5,327.1 L399.3,325.1 L400.4,326.9 L401,331 L402.2,331 L402.4,291.6 L403.6,283.3 L404.1,282.87 L404.6,282.42 L405.1,281.68 L405.6,279.4 L406.2,278.16 L406.8,273 L407.3,274.86 L407.8,276.47 L408.3,273.32 L408.8,276.2 L409.3,276.57 L409.8,279.2 L410.3,278.42 L410.8,280.05 L411.3,278.8 L411.8,277.72 L412.3,279.91 L412.8,279.55 L413.3,281.3 L413.77,280.54 L414.25,279.73 L414.73,276.3 L415.2,277.5 L415.68,276.72 L416.15,277.48 L416.62,280.77 L417.1,279.4 L417.75,282.17 L418.4,282.6 L419.05,284.3 L419.7,289 L420.18,290.01 L420.65,286.8 L421.12,288.62 L421.6,287.8 L422.08,286.95 L422.55,287.2 L423.02,291.84 L423.5,291 L424.02,290.74 L424.54,291.78 L425.06,296.19 L425.58,296.73 L426.1,296.1 L426.75,297.42 L427.4,300.6 L428,297.6 L428.5,301.64 L429,301.6 L429.5,302.77 L430,303.6 L430.5,305.89 L431,306.6 L431.5,307.8 L432,311.6 L432.5,310.55 L433,305.6 L433.5,302.44 L434,297.6 L434.5,297.66 L435,293.6 L435.5,294.84 L436,292.6 L436.5,293.71 L437,296.6 L437.5,296.99 L438,298.6 L438.5,298.62 L439,301.6 L439.5,301.03 L440,303.6 L440.5,300.18 L441,300.6 L441.5,300.72 L442,302.6 L442.8,301.6 L443,289.6 L443.5,281.6 L444.5,278.6 L445,278.6 L445.5,276.6 L446,277.19 L446.5,275.6 L447,276.05 L447.5,276.6 L448,276.29 L448.5,277.6 L449,275.4 L449.5,276.6 L450,278.15 L450.5,278.6 L451,278 L451.5,277.6 L452,279.48 L452.5,279.6 L453.3,286.6 L453.8,331 L458.4,331 L458.8,286.6 L459.5,277.6 L460.5,274.6 L461.5,274.5 L462.5,276.6 L463.5,278.6 L464.5,279.6 L465.2,286.6 L465.6,331 L466.5,331 L467,326.6 L468,322.6 L469,321.6 L470,327.6 L471,331 L472,329.6 L474,328.6 L476,330.6 L477,331 L480,331 L481,329.6 L482,327.1 L483,330.6 L484,331 L489.1,331 L489.5,286.6 L490.5,280.6 L491.5,279 L492.5,279.6 L493.5,278.6 L494.5,279.6 L495.2,283.6 L495.7,331 L499,331 L499.5,328.6 L500.5,325.6 L501.5,326.6 L502.5,330.6 L503.5,331 L506,331 L506.2,330.6 L508,330.6 L508.5,331 L511,331 L511.3,330.6 L513,330.1 L513.3,331 L516.2,331 L516.6,291.6 L517.5,277.6 L518.5,274.9 L519.5,275.6 L520.5,279.6 L521.5,282.1 L522.5,277.6 L523.5,275.6 L524,281.6 L524.4,331 L526,331 L526.3,328.6 L527.5,327.6 L528,331 L529.6,331 L530,286.6 L530.8,275.6 L531.8,274.9 L532.8,277.6 L533.8,279.6 L534.1,291.6 L534.4,331 L536,331 L536.5,327.6 L537.5,324.6 L538.5,322.6 L539.5,326.6 L540.5,330.6 L541.5,327.6 L542.5,325.6 L543.5,328.6 L544.5,330.6 L545.5,327.6 L546.5,323.6 L547.5,319.6 L548.5,315.6 L549.5,313 L550.5,314.6 L551.5,319.6 L552.5,321.6 L553.5,325.6 L554.5,322.6 L555.5,328.6 L556.5,330.6 L557.5,331 L560,331 L560.3,329.6 L562,328.6 L563,331 L566,331 L566.3,330.6 L569,329.6 L570,331 L572,330.6 L574,329.6 L576,331 L577.5,331 L577.8,331 L578.1,291.6 L578.8,277.6 L579.8,274.9 L580.8,275.6 L581.8,273.6 L582.8,276.6 L583.6,281.6 L584,331 L586,331 L586.4,327.6 L587.5,323.6 L588.5,319.6 L589.5,325.6 L590.5,321.6 L591.5,319 L592.5,323.6 L593.5,327.6 L594.5,324.6 L595.5,328.6 L596.5,330.6 L598,328.6 L600,330.6 L602,329.6 L604,331 L606,329.6 L607.6,331 L607.9,331 L608.2,282 L609.6,285.3 L610.15,286.96 L610.7,290.3 L611.3,285.74 L611.9,284.5 L612.42,282.12 L612.95,276.26 L613.48,275.37 L614,272.1 L614.57,271.76 L615.13,270.6 L615.7,273 L616.23,273.84 L616.77,272.4 L617.3,275.4 L617.9,277.98 L618.5,281.2 L619.02,277.7 L619.55,276.35 L620.08,276.49 L620.6,275.4 L621.1,275.64 L621.6,270.97 L622.1,270.12 L622.6,270.73 L623.1,268.8 L623.63,271.76 L624.17,270.83 L624.7,271.3 L625.27,270.81 L625.83,273.57 L626.4,271.3 L626.88,271.42 L627.35,277.56 L627.82,277.12 L628.3,280.4 L628.85,276.43 L629.4,274.03 L629.95,272.66 L630.5,271.3 L631.03,272.27 L631.57,268.71 L632.1,269.7 L632.67,268.99 L633.23,268.16 L633.8,266.4 L634.33,268.26 L634.87,271.56 L635.4,273.8 L635.97,274.45 L636.53,277.17 L637.1,282 L637.63,277.03 L638.17,275.73 L638.7,271.3 L639.2,273.44 L639.7,275.38 L640.2,279.15 L640.7,281 L641.2,283.7 L641.7,279.65 L642.2,278.9 L642.7,275.35 L643.2,271.3 L643.73,268.15 L644.27,267.79 L644.8,265.5 L645.35,266.24 L645.9,268.54 L646.45,268.47 L647,268 L647.48,266.99 L647.96,270.29 L648.44,266.18 L648.92,267.61 L649.4,268 L649.9,269.72 L650.4,267.34 L650.9,269.45 L651.4,267.81 L651.9,270.5 L652.45,273.75 L653,275.4 L653.57,272.29 L654.13,267.01 L654.7,262.3 L655.35,264.49 L656,263.1 L656.57,270.18 L657.13,279.96 L657.7,287 L658.35,281.25 L659,274.6 L659.53,269.48 L660.07,263.39 L660.6,258.1 L661.1,260.14 L661.6,261.07 L662.1,259.25 L662.6,259.8 L663.1,261.4 L663.6,259.35 L664.1,263.22 L664.6,263.78 L665.1,263.9 L665.58,266.57 L666.06,266.07 L666.54,263.83 L667.02,264.64 L667.5,265.5 L668,266.96 L668.5,264.55 L669,267.3 L669.5,266.56 L670,268.8 L670.5,267.48 L671,267.7 L671.5,271.58 L672,269.04 L672.5,271.3 L673,269.28 L673.5,269.14 L674,270.61 L674.5,266.02 L675,267.2 L675.53,269.42 L676.07,272.37 L676.6,274.6 L677.1,276.92 L677.6,277.12 L678.1,277.83 L678.6,275.55 L679.1,277.1 L679.63,277.53 L680.17,278.09 L680.7,279.6 L681.27,284.16 L681.83,287.25 L682.4,287.8 L683.2,304.3 L684,331 L684.9,331" fill="none" stroke="#b8b8b8" stroke-width="1.3" stroke-linejoin="round"/>
<path d="M381.7,331 L381.8,292.6 L382.4,287.14 L383,285 L383.47,282.15 L383.93,281.57 L384.4,280.4 L385.2,282.5 L385.75,281.73 L386.3,279.7 L387.1,285 L387.6,290.6 L388,321.4 L388.9,322.7 L389.8,325 L390.8,327.8 L392.1,329.1 L393.4,326.5 L394.3,329.5 L394.9,331 L395,300 L395.3,289.4 L395.7,300 L396,331 L397.2,324 L398.5,325.5 L399.3,323.5 L400.4,325.3 L401,331 L402.2,331 L402.4,290 L403.6,281.7 L404.1,281.27 L404.6,280.82 L405.1,280.08 L405.6,277.8 L406.2,276.56 L406.8,271.4 L407.3,273.26 L407.8,274.87 L408.3,271.72 L408.8,274.6 L409.3,274.97 L409.8,277.6 L410.3,276.82 L410.8,278.45 L411.3,277.2 L411.8,276.12 L412.3,278.31 L412.8,277.95 L413.3,279.7 L413.77,278.94 L414.25,278.13 L414.73,274.7 L415.2,275.9 L415.68,275.12 L416.15,275.88 L416.62,279.17 L417.1,277.8 L417.75,280.57 L418.4,281 L419.05,282.7 L419.7,287.4 L420.18,288.41 L420.65,285.2 L421.12,287.02 L421.6,286.2 L422.08,285.35 L422.55,285.6 L423.02,290.24 L423.5,289.4 L424.02,289.14 L424.54,290.18 L425.06,294.59 L425.58,295.13 L426.1,294.5 L426.75,295.82 L427.4,299 L428,296 L428.5,300.04 L429,300 L429.5,301.17 L430,302 L430.5,304.29 L431,305 L431.5,306.2 L432,310 L432.5,308.95 L433,304 L433.5,300.84 L434,296 L434.5,296.06 L435,292 L435.5,293.24 L436,291 L436.5,292.11 L437,295 L437.5,295.39 L438,297 L438.5,297.02 L439,300 L439.5,299.43 L440,302 L440.5,298.58 L441,299 L441.5,299.12 L442,301 L442.8,300 L443,288 L443.5,280 L444.5,277 L445,277 L445.5,275 L446,275.59 L446.5,274 L447,274.45 L447.5,275 L448,274.69 L448.5,276 L449,273.8 L449.5,275 L450,276.55 L450.5,277 L451,276.4 L451.5,276 L452,277.88 L452.5,278 L453.3,285 L453.8,331 L458.4,331 L458.8,285 L459.5,276 L460.5,273 L461.5,272.9 L462.5,275 L463.5,277 L464.5,278 L465.2,285 L465.6,331 L466.5,331 L467,325 L468,321 L469,320 L470,326 L471,331 L472,328 L474,327 L476,329 L477,331 L480,331 L481,328 L482,325.5 L483,329 L484,331 L489.1,331 L489.5,285 L490.5,279 L491.5,277.4 L492.5,278 L493.5,277 L494.5,278 L495.2,282 L495.7,331 L499,331 L499.5,327 L500.5,324 L501.5,325 L502.5,329 L503.5,331 L506,331 L506.2,329 L508,329 L508.5,331 L511,331 L511.3,329 L513,328.5 L513.3,331 L516.2,331 L516.6,290 L517.5,276 L518.5,273.3 L519.5,274 L520.5,278 L521.5,280.5 L522.5,276 L523.5,274 L524,280 L524.4,331 L526,331 L526.3,327 L527.5,326 L528,331 L529.6,331 L530,285 L530.8,274 L531.8,273.3 L532.8,276 L533.8,278 L534.1,290 L534.4,331 L536,331 L536.5,326 L537.5,323 L538.5,321 L539.5,325 L540.5,329 L541.5,326 L542.5,324 L543.5,327 L544.5,329 L545.5,326 L546.5,322 L547.5,318 L548.5,314 L549.5,311.4 L550.5,313 L551.5,318 L552.5,320 L553.5,324 L554.5,321 L555.5,327 L556.5,329 L557.5,331 L560,331 L560.3,328 L562,327 L563,331 L566,331 L566.3,329 L569,328 L570,331 L572,329 L574,328 L576,330 L577.5,331 L577.8,331 L578.1,290 L578.8,276 L579.8,273.3 L580.8,274 L581.8,272 L582.8,275 L583.6,280 L584,331 L586,331 L586.4,326 L587.5,322 L588.5,318 L589.5,324 L590.5,320 L591.5,317.4 L592.5,322 L593.5,326 L594.5,323 L595.5,327 L596.5,329 L598,327 L600,329 L602,328 L604,330 L606,328 L607.6,331 L607.9,330.7 L608.2,280.4 L609.6,283.7 L610.15,285.36 L610.7,288.7 L611.3,284.14 L611.9,282.9 L612.42,280.52 L612.95,274.66 L613.48,273.77 L614,270.5 L614.57,270.16 L615.13,269 L615.7,271.4 L616.23,272.24 L616.77,270.8 L617.3,273.8 L617.9,276.38 L618.5,279.6 L619.02,276.1 L619.55,274.75 L620.08,274.89 L620.6,273.8 L621.1,274.04 L621.6,269.37 L622.1,268.52 L622.6,269.13 L623.1,267.2 L623.63,270.16 L624.17,269.23 L624.7,269.7 L625.27,269.21 L625.83,271.97 L626.4,269.7 L626.88,269.82 L627.35,275.96 L627.82,275.52 L628.3,278.8 L628.85,274.83 L629.4,272.43 L629.95,271.06 L630.5,269.7 L631.03,270.67 L631.57,267.11 L632.1,268.1 L632.67,267.39 L633.23,266.56 L633.8,264.8 L634.33,266.66 L634.87,269.96 L635.4,272.2 L635.97,272.85 L636.53,275.57 L637.1,280.4 L637.63,275.43 L638.17,274.13 L638.7,269.7 L639.2,271.84 L639.7,273.78 L640.2,277.55 L640.7,279.4 L641.2,282.1 L641.7,278.05 L642.2,277.3 L642.7,273.75 L643.2,269.7 L643.73,266.55 L644.27,266.19 L644.8,263.9 L645.35,264.64 L645.9,266.94 L646.45,266.87 L647,266.4 L647.48,265.39 L647.96,268.69 L648.44,264.58 L648.92,266.01 L649.4,266.4 L649.9,268.12 L650.4,265.74 L650.9,267.85 L651.4,266.21 L651.9,268.9 L652.45,272.15 L653,273.8 L653.57,270.69 L654.13,265.41 L654.7,260.7 L655.35,262.89 L656,261.5 L656.57,268.58 L657.13,278.36 L657.7,285.4 L658.35,279.65 L659,273 L659.53,267.88 L660.07,261.79 L660.6,256.5 L661.1,258.54 L661.6,259.47 L662.1,257.65 L662.6,258.2 L663.1,259.8 L663.6,257.75 L664.1,261.62 L664.6,262.18 L665.1,262.3 L665.58,264.97 L666.06,264.47 L666.54,262.23 L667.02,263.04 L667.5,263.9 L668,265.36 L668.5,262.95 L669,265.7 L669.5,264.96 L670,267.2 L670.5,265.88 L671,266.1 L671.5,269.98 L672,267.44 L672.5,269.7 L673,267.68 L673.5,267.54 L674,269.01 L674.5,264.42 L675,265.6 L675.53,267.82 L676.07,270.77 L676.6,273 L677.1,275.32 L677.6,275.52 L678.1,276.23 L678.6,273.95 L679.1,275.5 L679.63,275.93 L680.17,276.49 L680.7,278 L681.27,282.56 L681.83,285.65 L682.4,286.2 L683.2,302.7 L684,330.7 L684.9,331" fill="none" stroke="#111" stroke-width="1.6" stroke-linejoin="round"/>
<path d="M381.7,241 L684.9,241 L684.9,331.3" fill="none" stroke="#aaa" stroke-width="1"/>
<line x1="381.7" y1="241" x2="381.7" y2="331.3" stroke="#777" stroke-width="0.8"/>
<line x1="381.7" y1="331.3" x2="684.9" y2="331.3" stroke="#333" stroke-width="0.8"/>
<text x="377.8" y="244.6" font-size="5.6" text-anchor="middle" transform="rotate(-90 377.8 244.6)" dominant-baseline="central">500</text>
<text x="377.8" y="278" font-size="5.6" text-anchor="middle" transform="rotate(-90 377.8 278)" dominant-baseline="central">100</text>
<text x="377.8" y="291.6" font-size="5.6" text-anchor="middle" transform="rotate(-90 377.8 291.6)" dominant-baseline="central">50</text>
<text x="377.8" y="307" font-size="5.6" text-anchor="middle" transform="rotate(-90 377.8 307)" dominant-baseline="central">20</text>
<text x="377.8" y="322.5" font-size="5.6" text-anchor="middle" transform="rotate(-90 377.8 322.5)" dominant-baseline="central">5</text>
<text x="377.8" y="331" font-size="5.6" text-anchor="middle" transform="rotate(-90 377.8 331)" dominant-baseline="central">0</text>
<text x="381.5" y="341.5" font-size="5.7" text-anchor="middle" fill="#000" >0</text>
<text x="441" y="341.5" font-size="5.7" text-anchor="middle" fill="#000" >1000</text>
<text x="500.2" y="341.5" font-size="5.7" text-anchor="middle" fill="#000" >2000</text>
<text x="559.7" y="341.5" font-size="5.7" text-anchor="middle" fill="#000" >3000</text>
<text x="619.3" y="341.5" font-size="5.7" text-anchor="middle" fill="#000" >4000</text>
<text x="678.3" y="341.5" font-size="5.7" text-anchor="middle" fill="#000" >5000</text>
<text x="679.7" y="256.2" font-size="9.8" text-anchor="end" fill="#000" >TCGA−BA−6871−01A</text>
<line x1="411.9" y1="338.7" x2="423.8" y2="338.7" stroke="#000" stroke-width="2"/>
<line x1="411.9" y1="338.7" x2="374.5" y2="381.5" stroke="#111" stroke-width="1.1" stroke-dasharray="2.3,1.7"/>
<line x1="423.8" y1="338.7" x2="598.8" y2="382.5" stroke="#111" stroke-width="1.1" stroke-dasharray="2.3,1.7"/>
<text x="-1" y="373.8" font-size="16.5" text-anchor="start" font-weight="bold" fill="#000" >d</text>
<text x="41.7" y="378.5" font-size="12.62" text-anchor="start" fill="#000" >Chr17: 7,578,188-7,578,166</text>
<rect x="130.9" y="383.5" width="108.1" height="45.9" fill="#f8fafc"/>
<rect x="14" y="383.5" width="225" height="136" fill="#fbfbfc"/>
<rect x="130.9" y="383.5" width="108.1" height="45.9" fill="#f8fafc"/>
<path d="M14,384.4 L130.9,384.4 L130.9,390.7 L14,390.7Z" fill="#c9c9c9"/><line x1="130.9" y1="387.55" x2="239" y2="387.55" stroke="#b9cfdc" stroke-width="0.9"/>
<path d="M14,391.9 L130.9,391.9 L130.9,398.2 L14,398.2Z" fill="#c9c9c9"/><line x1="130.9" y1="395.05" x2="239" y2="395.05" stroke="#b9cfdc" stroke-width="0.9"/>
<path d="M14,399.4 L130.9,399.4 L130.9,405.7 L14,405.7Z" fill="#c9c9c9"/><line x1="130.9" y1="402.55" x2="239" y2="402.55" stroke="#b9cfdc" stroke-width="0.9"/>
<path d="M14,406.9 L130.9,406.9 L130.9,413.2 L14,413.2Z" fill="#c9c9c9"/><line x1="130.9" y1="410.05" x2="239" y2="410.05" stroke="#b9cfdc" stroke-width="0.9"/>
<path d="M14,414.4 L130.9,414.4 L130.9,420.7 L14,420.7Z" fill="#c9c9c9"/><line x1="130.9" y1="417.55" x2="239" y2="417.55" stroke="#b9cfdc" stroke-width="0.9"/>
<path d="M14,421.9 L130.9,421.9 L130.9,428.2 L14,428.2Z" fill="#c9c9c9"/><line x1="130.9" y1="425.05" x2="239" y2="425.05" stroke="#b9cfdc" stroke-width="0.9"/>
<path d="M14,429.4 L130.9,429.4 L130.9,435.7 L14,435.7Z" fill="#c9c9c9"/><line x1="130.9" y1="432.55" x2="239" y2="432.55" stroke="#b9cfdc" stroke-width="0.9"/>
<path d="M14,436.9 L130.9,436.9 L130.9,443.2 L14,443.2Z" fill="#c9c9c9"/><line x1="130.9" y1="440.05" x2="239" y2="440.05" stroke="#b9cfdc" stroke-width="0.9"/>
<path d="M14,444.4 L130.9,444.4 L130.9,450.7 L14,450.7Z" fill="#c9c9c9"/><line x1="130.9" y1="447.55" x2="239" y2="447.55" stroke="#b9cfdc" stroke-width="0.9"/>
<path d="M14,451.9 L130.9,451.9 L130.9,458.2 L14,458.2Z" fill="#c9c9c9"/><line x1="130.9" y1="455.05" x2="239" y2="455.05" stroke="#b9cfdc" stroke-width="0.9"/>
<path d="M14,459.4 L130.9,459.4 L130.9,465.7 L14,465.7Z" fill="#c9c9c9"/><line x1="130.9" y1="462.55" x2="239" y2="462.55" stroke="#b9cfdc" stroke-width="0.9"/>
<path d="M14,466.9 L130.9,466.9 L130.9,473.2 L14,473.2Z" fill="#c9c9c9"/><line x1="130.9" y1="470.05" x2="239" y2="470.05" stroke="#b9cfdc" stroke-width="0.9"/>
<path d="M14,474.4 L130.9,474.4 L130.9,480.7 L14,480.7Z" fill="#c9c9c9"/><line x1="130.9" y1="477.55" x2="239" y2="477.55" stroke="#b9cfdc" stroke-width="0.9"/>
<path d="M14,481.9 L130.9,481.9 L130.9,488.2 L14,488.2Z" fill="#c9c9c9"/><line x1="130.9" y1="485.05" x2="239" y2="485.05" stroke="#b9cfdc" stroke-width="0.9"/>
<path d="M14,489.4 L130.9,489.4 L130.9,495.7 L14,495.7Z" fill="#c9c9c9"/><line x1="130.9" y1="492.55" x2="239" y2="492.55" stroke="#b9cfdc" stroke-width="0.9"/>
<path d="M14,496.9 L130.9,496.9 L130.9,503.2 L14,503.2Z" fill="#c9c9c9"/><line x1="130.9" y1="500.05" x2="239" y2="500.05" stroke="#b9cfdc" stroke-width="0.9"/>
<path d="M14,504.4 L130.9,504.4 L130.9,510.7 L14,510.7Z" fill="#c9c9c9"/><line x1="130.9" y1="507.55" x2="239" y2="507.55" stroke="#b9cfdc" stroke-width="0.9"/>
<path d="M14,511.9 L130.9,511.9 L130.9,518.2 L14,518.2Z" fill="#c9c9c9"/><line x1="130.9" y1="515.05" x2="239" y2="515.05" stroke="#b9cfdc" stroke-width="0.9"/>
<line x1="14" y1="382.5" x2="239" y2="382.5" stroke="#000" stroke-width="2"/>
<line x1="14" y1="520.1" x2="239" y2="520.1" stroke="#d4d4d4" stroke-width="1"/><line x1="14" y1="522.4" x2="239" y2="522.4" stroke="#5a5a5a" stroke-width="1.2"/>
<text x="16.7" y="530.8" font-size="7.2" text-anchor="middle" font-weight="bold" fill="#111" >C</text>
<text x="26.65" y="530.8" font-size="7.2" text-anchor="middle" font-weight="bold" fill="#111" >T</text>
<text x="36.6" y="530.8" font-size="7.2" text-anchor="middle" font-weight="bold" fill="#111" >C</text>
<text x="46.55" y="530.8" font-size="7.2" text-anchor="middle" font-weight="bold" fill="#111" >G</text>
<text x="56.5" y="530.8" font-size="7.2" text-anchor="middle" font-weight="bold" fill="#111" >G</text>
<text x="66.45" y="530.8" font-size="7.2" text-anchor="middle" font-weight="bold" fill="#111" >C</text>
<text x="76.4" y="530.8" font-size="7.2" text-anchor="middle" font-weight="bold" fill="#111" >G</text>
<text x="86.35" y="530.8" font-size="7.2" text-anchor="middle" font-weight="bold" fill="#111" >G</text>
<text x="96.3" y="530.8" font-size="7.2" text-anchor="middle" font-weight="bold" fill="#111" >A</text>
<text x="106.25" y="530.8" font-size="7.2" text-anchor="middle" font-weight="bold" fill="#111" >C</text>
<text x="116.2" y="530.8" font-size="7.2" text-anchor="middle" font-weight="bold" fill="#111" >T</text>
<text x="126.15" y="530.8" font-size="7.2" text-anchor="middle" font-weight="bold" fill="#111" >C</text>
<text x="136.1" y="530.8" font-size="7.2" text-anchor="middle" font-weight="bold" fill="#111" >C</text>
<text x="146.05" y="530.8" font-size="7.2" text-anchor="middle" font-weight="bold" fill="#111" >A</text>
<text x="156" y="530.8" font-size="7.2" text-anchor="middle" font-weight="bold" fill="#111" >G</text>
<text x="165.95" y="530.8" font-size="7.2" text-anchor="middle" font-weight="bold" fill="#111" >A</text>
<text x="175.9" y="530.8" font-size="7.2" text-anchor="middle" font-weight="bold" fill="#111" >C</text>
<text x="185.85" y="530.8" font-size="7.2" text-anchor="middle" font-weight="bold" fill="#111" >C</text>
<text x="195.8" y="530.8" font-size="7.2" text-anchor="middle" font-weight="bold" fill="#111" >A</text>
<text x="205.75" y="530.8" font-size="7.2" text-anchor="middle" font-weight="bold" fill="#111" >A</text>
<text x="215.7" y="530.8" font-size="7.2" text-anchor="middle" font-weight="bold" fill="#111" >A</text>
<text x="225.65" y="530.8" font-size="7.2" text-anchor="middle" font-weight="bold" fill="#111" >C</text>
<text x="235.6" y="530.8" font-size="7.2" text-anchor="middle" font-weight="bold" fill="#111" >G</text>
<rect x="14.2" y="534.7" width="29.1" height="7" fill="#24246e"/>
<rect x="43.3" y="534.7" width="28.8" height="7" fill="#5b5ba8"/>
<rect x="72.1" y="534.7" width="29.4" height="7" fill="#24246e"/>
<rect x="101.5" y="534.7" width="29.3" height="7" fill="#5b5ba8"/>
<text x="28.7" y="540.6" font-size="7" text-anchor="middle" fill="#dcdcf0" >E</text>
<text x="57.7" y="540.6" font-size="7" text-anchor="middle" fill="#dcdcf0" >P</text>
<text x="86.8" y="540.6" font-size="7" text-anchor="middle" fill="#dcdcf0" >P</text>
<text x="116.1" y="540.6" font-size="7" text-anchor="middle" fill="#dcdcf0" >E</text>
<line x1="130.8" y1="538.1" x2="239" y2="538.1" stroke="#4b4bb0" stroke-width="1"/>
<path d="M158,536.6 L158,539.6" stroke="#4b4bb0" stroke-width="1"/>
<path d="M174.5,536.6 L174.5,539.6" stroke="#4b4bb0" stroke-width="1"/>
<path d="M190.8,536.6 L190.8,539.6" stroke="#4b4bb0" stroke-width="1"/>
<path d="M206.9,536.6 L206.9,539.6" stroke="#4b4bb0" stroke-width="1"/>
<path d="M223,536.6 L223,539.6" stroke="#4b4bb0" stroke-width="1"/>
<text x="369" y="374.4" font-size="16.5" text-anchor="start" font-weight="bold" fill="#000" >g</text>
<text x="388.6" y="378.5" font-size="12.62" text-anchor="start" fill="#000" >Chr17: 7,579,321-7,579,298</text>
<rect x="461.9" y="383.5" width="136.3" height="45.9" fill="#f8fafc"/>
<rect x="374" y="383.5" width="224.2" height="136" fill="#fbfbfc"/>
<rect x="461.9" y="383.5" width="136.3" height="45.9" fill="#f8fafc"/>
<path d="M374,384.4 L461.9,384.4 L461.9,390.7 L374,390.7Z" fill="#c9c9c9"/><line x1="461.9" y1="387.55" x2="598.2" y2="387.55" stroke="#b9cfdc" stroke-width="0.9"/>
<path d="M374,391.9 L461.9,391.9 L461.9,398.2 L374,398.2Z" fill="#c9c9c9"/><line x1="461.9" y1="395.05" x2="598.2" y2="395.05" stroke="#b9cfdc" stroke-width="0.9"/>
<path d="M374,399.4 L461.9,399.4 L461.9,405.7 L374,405.7Z" fill="#c9c9c9"/><line x1="461.9" y1="402.55" x2="598.2" y2="402.55" stroke="#b9cfdc" stroke-width="0.9"/>
<path d="M374,406.9 L461.9,406.9 L461.9,413.2 L374,413.2Z" fill="#c9c9c9"/><line x1="461.9" y1="410.05" x2="598.2" y2="410.05" stroke="#b9cfdc" stroke-width="0.9"/>
<path d="M374,414.4 L461.9,414.4 L461.9,420.7 L374,420.7Z" fill="#c9c9c9"/><line x1="461.9" y1="417.55" x2="598.2" y2="417.55" stroke="#b9cfdc" stroke-width="0.9"/>
<path d="M374,421.9 L461.9,421.9 L461.9,428.2 L374,428.2Z" fill="#c9c9c9"/><line x1="461.9" y1="425.05" x2="598.2" y2="425.05" stroke="#b9cfdc" stroke-width="0.9"/>
<path d="M374,429.4 L598.2,429.4 L598.2,435.7 L374,435.7Z" fill="#c9c9c9"/>
<path d="M374,436.9 L529.3,436.9 L532,440.05 L529.3,443.2 L374,443.2Z" fill="#c9c9c9"/>
<path d="M569.5,436.9 L598.2,436.9 L598.2,443.2 L569.5,443.2 L566.8,440.05Z" fill="#c9c9c9"/>
<path d="M374,444.4 L509.8,444.4 L509.8,450.7 L374,450.7Z" fill="#c9c9c9"/>
<path d="M530.7,444.4 L598.2,444.4 L598.2,450.7 L530.7,450.7 L528,447.55Z" fill="#c9c9c9"/>
<path d="M374,451.9 L598.2,451.9 L598.2,458.2 L374,458.2Z" fill="#c9c9c9"/>
<path d="M374,459.4 L598.2,459.4 L598.2,465.7 L374,465.7Z" fill="#c9c9c9"/>
<path d="M374,466.9 L598.2,466.9 L598.2,473.2 L374,473.2Z" fill="#c9c9c9"/>
<path d="M374,474.4 L598.2,474.4 L598.2,480.7 L374,480.7Z" fill="#c9c9c9"/>
<path d="M374,481.9 L598.2,481.9 L598.2,488.2 L374,488.2Z" fill="#c9c9c9"/>
<path d="M374,489.4 L587,489.4 L589.7,492.55 L587,495.7 L374,495.7Z" fill="#c9c9c9"/>
<path d="M374,496.9 L529.3,496.9 L532,500.05 L529.3,503.2 L374,503.2Z" fill="#c9c9c9"/>
<path d="M569.5,496.9 L598.2,496.9 L598.2,503.2 L569.5,503.2 L566.8,500.05Z" fill="#c9c9c9"/>
<path d="M385.2,504.4 L598.2,504.4 L598.2,510.7 L385.2,510.7 L382.5,507.55Z" fill="#c9c9c9"/>
<path d="M384.8,511.9 L598.2,511.9 L598.2,518.2 L384.8,518.2Z" fill="#c9c9c9"/>
<path d="M489,429.9 H492 M490.5,429.9 V435.2 M489,435.2 H492" stroke="#6a3fae" stroke-width="1"/>
<path d="M489,437.4 H492 M490.5,437.4 V442.7 M489,442.7 H492" stroke="#6a3fae" stroke-width="1"/>
<path d="M489,444.9 H492 M490.5,444.9 V450.2 M489,450.2 H492" stroke="#6a3fae" stroke-width="1"/>
<path d="M489,452.4 H492 M490.5,452.4 V457.7 M489,457.7 H492" stroke="#6a3fae" stroke-width="1"/>
<path d="M489,459.9 H492 M490.5,459.9 V465.2 M489,465.2 H492" stroke="#6a3fae" stroke-width="1"/>
<path d="M489,467.4 H492 M490.5,467.4 V472.7 M489,472.7 H492" stroke="#6a3fae" stroke-width="1"/>
<path d="M489,474.9 H492 M490.5,474.9 V480.2 M489,480.2 H492" stroke="#6a3fae" stroke-width="1"/>
<path d="M489,482.4 H492 M490.5,482.4 V487.7 M489,487.7 H492" stroke="#6a3fae" stroke-width="1"/>
<path d="M489,489.9 H492 M490.5,489.9 V495.2 M489,495.2 H492" stroke="#6a3fae" stroke-width="1"/>
<path d="M489,497.4 H492 M490.5,497.4 V502.7 M489,502.7 H492" stroke="#6a3fae" stroke-width="1"/>
<path d="M489,504.9 H492 M490.5,504.9 V510.2 M489,510.2 H492" stroke="#6a3fae" stroke-width="1"/>
<path d="M489,512.4 H492 M490.5,512.4 V517.7 M489,517.7 H492" stroke="#6a3fae" stroke-width="1"/>
<line x1="374" y1="382.5" x2="598.2" y2="382.5" stroke="#000" stroke-width="2"/>
<rect x="374" y="519.4" width="224.2" height="2.4" fill="#c6c6c6"/><line x1="374" y1="523.5" x2="598.2" y2="523.5" stroke="#6a6a6a" stroke-width="1.1"/>
<text x="376.1" y="530.8" font-size="7.2" text-anchor="middle" font-weight="bold" fill="#111" >T</text>
<text x="386.1" y="530.8" font-size="7.2" text-anchor="middle" font-weight="bold" fill="#111" >G</text>
<text x="396.1" y="530.8" font-size="7.2" text-anchor="middle" font-weight="bold" fill="#111" >A</text>
<text x="406.1" y="530.8" font-size="7.2" text-anchor="middle" font-weight="bold" fill="#111" >A</text>
<text x="416.1" y="530.8" font-size="7.2" text-anchor="middle" font-weight="bold" fill="#111" >C</text>
<text x="426.1" y="530.8" font-size="7.2" text-anchor="middle" font-weight="bold" fill="#111" >G</text>
<text x="436.1" y="530.8" font-size="7.2" text-anchor="middle" font-weight="bold" fill="#111" >T</text>
<text x="446.1" y="530.8" font-size="7.2" text-anchor="middle" font-weight="bold" fill="#111" >G</text>
<text x="456.1" y="530.8" font-size="7.2" text-anchor="middle" font-weight="bold" fill="#111" >C</text>
<text x="466.1" y="530.8" font-size="7.2" text-anchor="middle" font-weight="bold" fill="#111" >C</text>
<text x="476.1" y="530.8" font-size="7.2" text-anchor="middle" font-weight="bold" fill="#111" >A</text>
<text x="486.1" y="530.8" font-size="7.2" text-anchor="middle" font-weight="bold" fill="#111" >G</text>
<text x="496.1" y="530.8" font-size="7.2" text-anchor="middle" font-weight="bold" fill="#111" >T</text>
<text x="506.1" y="530.8" font-size="7.2" text-anchor="middle" font-weight="bold" fill="#111" >C</text>
<text x="516.1" y="530.8" font-size="7.2" text-anchor="middle" font-weight="bold" fill="#111" >A</text>
<text x="526.1" y="530.8" font-size="7.2" text-anchor="middle" font-weight="bold" fill="#111" >A</text>
<text x="536.1" y="530.8" font-size="7.2" text-anchor="middle" font-weight="bold" fill="#111" >C</text>
<text x="546.1" y="530.8" font-size="7.2" text-anchor="middle" font-weight="bold" fill="#111" >G</text>
<text x="556.1" y="530.8" font-size="7.2" text-anchor="middle" font-weight="bold" fill="#111" >G</text>
<text x="566.1" y="530.8" font-size="7.2" text-anchor="middle" font-weight="bold" fill="#111" >G</text>
<text x="576.1" y="530.8" font-size="7.2" text-anchor="middle" font-weight="bold" fill="#111" >A</text>
<text x="586.1" y="530.8" font-size="7.2" text-anchor="middle" font-weight="bold" fill="#111" >C</text>
<text x="596.1" y="530.8" font-size="7.2" text-anchor="middle" font-weight="bold" fill="#111" >T</text>
<rect x="373.9" y="534.7" width="29" height="7" fill="#5b5ba8"/>
<rect x="402.9" y="534.7" width="29.3" height="7" fill="#24246e"/>
<rect x="432.2" y="534.7" width="29.3" height="7" fill="#5b5ba8"/>
<text x="388.4" y="540.6" font-size="7" text-anchor="middle" fill="#dcdcf0" >T</text>
<text x="417.6" y="540.6" font-size="7" text-anchor="middle" fill="#dcdcf0" >C</text>
<text x="446.9" y="540.6" font-size="7" text-anchor="middle" fill="#dcdcf0" >T</text>
<line x1="461.5" y1="538.1" x2="598.2" y2="538.1" stroke="#4b4bb0" stroke-width="1"/>
<path d="M471.3,536.6 L471.3,539.6" stroke="#4b4bb0" stroke-width="1"/>
<path d="M487.7,536.6 L487.7,539.6" stroke="#4b4bb0" stroke-width="1"/>
<path d="M504.1,536.6 L504.1,539.6" stroke="#4b4bb0" stroke-width="1"/>
<path d="M520.5,536.6 L520.5,539.6" stroke="#4b4bb0" stroke-width="1"/>
<path d="M536.9,536.6 L536.9,539.6" stroke="#4b4bb0" stroke-width="1"/>
<path d="M553.3,536.6 L553.3,539.6" stroke="#4b4bb0" stroke-width="1"/>
<path d="M569.7,536.6 L569.7,539.6" stroke="#4b4bb0" stroke-width="1"/>
<path d="M586.1,536.6 L586.1,539.6" stroke="#4b4bb0" stroke-width="1"/>
<text x="241.3" y="373.5" font-size="16.5" text-anchor="start" font-weight="bold" fill="#000" >e</text>
<text x="289.9" y="378.4" font-size="12.4" text-anchor="middle" fill="#000" >Ratio</text>
<rect x="254.5" y="381.9" width="71" height="156.3" fill="none" stroke="#777" stroke-width="0.9"/>
<line x1="252.3" y1="394.2" x2="254.5" y2="394.2" stroke="#777" stroke-width="0.8"/>
<text x="246.9" y="394.2" font-size="6.4" text-anchor="middle" transform="rotate(-90 246.9 394.2)" dominant-baseline="central">1</text>
<line x1="252.3" y1="456.8" x2="254.5" y2="456.8" stroke="#777" stroke-width="0.8"/>
<text x="246.9" y="456.8" font-size="6.4" text-anchor="middle" transform="rotate(-90 246.9 456.8)" dominant-baseline="central">0.5</text>
<line x1="252.3" y1="519.4" x2="254.5" y2="519.4" stroke="#777" stroke-width="0.8"/>
<text x="246.9" y="519.4" font-size="6.4" text-anchor="middle" transform="rotate(-90 246.9 519.4)" dominant-baseline="central">0</text>
<circle cx="259.5" cy="530.3" r="2.2" fill="#000"/>
<text x="265.7" y="532.5" font-size="6.3" text-anchor="start" fill="#000" >TCGA-CR-7401-01A</text>
<g><circle cx="280.3" cy="394.5" r="1.7" fill="#fff" stroke="#8a8a8a" stroke-width="0.6"/><circle cx="299.8" cy="394.5" r="1.7" fill="#fff" stroke="#8a8a8a" stroke-width="0.6"/><circle cx="281.2" cy="401" r="1.7" fill="#fff" stroke="#8a8a8a" stroke-width="0.6"/><circle cx="279.8" cy="410.5" r="1.7" fill="#fff" stroke="#8a8a8a" stroke-width="0.6"/><circle cx="282" cy="415.5" r="1.7" fill="#fff" stroke="#8a8a8a" stroke-width="0.6"/><circle cx="299.6" cy="408" r="1.7" fill="#fff" stroke="#8a8a8a" stroke-width="0.6"/><circle cx="298.3" cy="413.5" r="1.7" fill="#fff" stroke="#8a8a8a" stroke-width="0.6"/></g>
<g><circle cx="284.29" cy="396.06" r="2" fill="#ababab" stroke="#8c8c8c" stroke-width="0.35"/><circle cx="288.56" cy="395.87" r="2" fill="#ababab" stroke="#8c8c8c" stroke-width="0.35"/><circle cx="297.04" cy="395.67" r="2" fill="#ababab" stroke="#8c8c8c" stroke-width="0.35"/><circle cx="283.34" cy="398.17" r="2" fill="#ababab" stroke="#8c8c8c" stroke-width="0.35"/><circle cx="285.77" cy="398.07" r="2" fill="#ababab" stroke="#8c8c8c" stroke-width="0.35"/><circle cx="288.22" cy="397.29" r="2" fill="#ababab" stroke="#8c8c8c" stroke-width="0.35"/><circle cx="290.23" cy="398.08" r="2" fill="#ababab" stroke="#8c8c8c" stroke-width="0.35"/><circle cx="292.64" cy="397.46" r="2" fill="#ababab" stroke="#8c8c8c" stroke-width="0.35"/><circle cx="294.95" cy="397.06" r="2" fill="#ababab" stroke="#8c8c8c" stroke-width="0.35"/><circle cx="298.23" cy="398.45" r="2" fill="#ababab" stroke="#8c8c8c" stroke-width="0.35"/><circle cx="283.42" cy="400.13" r="2" fill="#ababab" stroke="#8c8c8c" stroke-width="0.35"/><circle cx="285.98" cy="399.37" r="2" fill="#ababab" stroke="#8c8c8c" stroke-width="0.35"/><circle cx="288.61" cy="399.79" r="2" fill="#ababab" stroke="#8c8c8c" stroke-width="0.35"/><circle cx="291.33" cy="399.26" r="2" fill="#ababab" stroke="#8c8c8c" stroke-width="0.35"/><circle cx="293.58" cy="399.43" r="2" fill="#ababab" stroke="#8c8c8c" stroke-width="0.35"/><circle cx="296.29" cy="399.17" r="2" fill="#ababab" stroke="#8c8c8c" stroke-width="0.35"/><circle cx="283.1" cy="402.72" r="2" fill="#ababab" stroke="#8c8c8c" stroke-width="0.35"/><circle cx="284.68" cy="402.51" r="2" fill="#ababab" stroke="#8c8c8c" stroke-width="0.35"/><circle cx="287.97" cy="401.48" r="2" fill="#ababab" stroke="#8c8c8c" stroke-width="0.35"/><circle cx="290.84" cy="402.64" r="2" fill="#ababab" stroke="#8c8c8c" stroke-width="0.35"/><circle cx="292.27" cy="402.59" r="2" fill="#ababab" stroke="#8c8c8c" stroke-width="0.35"/><circle cx="295.6" cy="401.44" r="2" fill="#ababab" stroke="#8c8c8c" stroke-width="0.35"/><circle cx="297.92" cy="402.38" r="2" fill="#ababab" stroke="#8c8c8c" stroke-width="0.35"/><circle cx="284.15" cy="403.97" r="2" fill="#ababab" stroke="#8c8c8c" stroke-width="0.35"/><circle cx="286.25" cy="403.87" r="2" fill="#ababab" stroke="#8c8c8c" stroke-width="0.35"/><circle cx="289.29" cy="403.58" r="2" fill="#ababab" stroke="#8c8c8c" stroke-width="0.35"/><circle cx="290.81" cy="404.43" r="2" fill="#ababab" stroke="#8c8c8c" stroke-width="0.35"/><circle cx="294.07" cy="403.46" r="2" fill="#ababab" stroke="#8c8c8c" stroke-width="0.35"/><circle cx="296.25" cy="403.55" r="2" fill="#ababab" stroke="#8c8c8c" stroke-width="0.35"/><circle cx="282.43" cy="406.01" r="2" fill="#ababab" stroke="#8c8c8c" stroke-width="0.35"/><circle cx="284.57" cy="406.33" r="2" fill="#ababab" stroke="#8c8c8c" stroke-width="0.35"/><circle cx="288.29" cy="405.58" r="2" fill="#ababab" stroke="#8c8c8c" stroke-width="0.35"/><circle cx="290.24" cy="407.13" r="2" fill="#ababab" stroke="#8c8c8c" stroke-width="0.35"/><circle cx="292.71" cy="406.65" r="2" fill="#ababab" stroke="#8c8c8c" stroke-width="0.35"/><circle cx="294.5" cy="406.38" r="2" fill="#ababab" stroke="#8c8c8c" stroke-width="0.35"/><circle cx="298.13" cy="405.99" r="2" fill="#ababab" stroke="#8c8c8c" stroke-width="0.35"/><circle cx="282.06" cy="408.16" r="2" fill="#ababab" stroke="#8c8c8c" stroke-width="0.35"/><circle cx="283.77" cy="408.14" r="2" fill="#ababab" stroke="#8c8c8c" stroke-width="0.35"/><circle cx="286.03" cy="408.31" r="2" fill="#ababab" stroke="#8c8c8c" stroke-width="0.35"/><circle cx="288.84" cy="407.89" r="2" fill="#ababab" stroke="#8c8c8c" stroke-width="0.35"/><circle cx="291.66" cy="407.76" r="2" fill="#ababab" stroke="#8c8c8c" stroke-width="0.35"/><circle cx="293.5" cy="408.52" r="2" fill="#ababab" stroke="#8c8c8c" stroke-width="0.35"/><circle cx="296.23" cy="408.21" r="2" fill="#ababab" stroke="#8c8c8c" stroke-width="0.35"/><circle cx="298.42" cy="409.13" r="2" fill="#ababab" stroke="#8c8c8c" stroke-width="0.35"/><circle cx="283.27" cy="410.27" r="2" fill="#ababab" stroke="#8c8c8c" stroke-width="0.35"/><circle cx="285.07" cy="409.98" r="2" fill="#ababab" stroke="#8c8c8c" stroke-width="0.35"/><circle cx="287.53" cy="410.63" r="2" fill="#ababab" stroke="#8c8c8c" stroke-width="0.35"/><circle cx="291.03" cy="409.99" r="2" fill="#ababab" stroke="#8c8c8c" stroke-width="0.35"/><circle cx="292.16" cy="411.21" r="2" fill="#ababab" stroke="#8c8c8c" stroke-width="0.35"/><circle cx="295.88" cy="410.8" r="2" fill="#ababab" stroke="#8c8c8c" stroke-width="0.35"/><circle cx="296.96" cy="410.32" r="2" fill="#ababab" stroke="#8c8c8c" stroke-width="0.35"/><circle cx="283.79" cy="412.65" r="2" fill="#ababab" stroke="#8c8c8c" stroke-width="0.35"/><circle cx="286.04" cy="413.25" r="2" fill="#ababab" stroke="#8c8c8c" stroke-width="0.35"/><circle cx="289.7" cy="412.93" r="2" fill="#ababab" stroke="#8c8c8c" stroke-width="0.35"/><circle cx="291.4" cy="413.02" r="2" fill="#ababab" stroke="#8c8c8c" stroke-width="0.35"/><circle cx="294.54" cy="413.54" r="2" fill="#ababab" stroke="#8c8c8c" stroke-width="0.35"/><circle cx="295.92" cy="412.95" r="2" fill="#ababab" stroke="#8c8c8c" stroke-width="0.35"/><circle cx="283.49" cy="414.75" r="2" fill="#ababab" stroke="#8c8c8c" stroke-width="0.35"/><circle cx="284.53" cy="414.32" r="2" fill="#ababab" stroke="#8c8c8c" stroke-width="0.35"/><circle cx="287.12" cy="415.42" r="2" fill="#ababab" stroke="#8c8c8c" stroke-width="0.35"/><circle cx="291.05" cy="415.57" r="2" fill="#ababab" stroke="#8c8c8c" stroke-width="0.35"/><circle cx="292.95" cy="415.61" r="2" fill="#ababab" stroke="#8c8c8c" stroke-width="0.35"/><circle cx="294.91" cy="415.49" r="2" fill="#ababab" stroke="#8c8c8c" stroke-width="0.35"/><circle cx="297.44" cy="415.87" r="2" fill="#ababab" stroke="#8c8c8c" stroke-width="0.35"/><circle cx="283.92" cy="416.46" r="2" fill="#ababab" stroke="#8c8c8c" stroke-width="0.35"/><circle cx="286.11" cy="416.98" r="2" fill="#ababab" stroke="#8c8c8c" stroke-width="0.35"/><circle cx="288.6" cy="417.81" r="2" fill="#ababab" stroke="#8c8c8c" stroke-width="0.35"/><circle cx="291.37" cy="418.04" r="2" fill="#ababab" stroke="#8c8c8c" stroke-width="0.35"/><circle cx="293.97" cy="416.87" r="2" fill="#ababab" stroke="#8c8c8c" stroke-width="0.35"/><circle cx="297.14" cy="417.31" r="2" fill="#ababab" stroke="#8c8c8c" stroke-width="0.35"/><circle cx="287.24" cy="418.79" r="2" fill="#ababab" stroke="#8c8c8c" stroke-width="0.35"/><circle cx="289.94" cy="420.04" r="2" fill="#ababab" stroke="#8c8c8c" stroke-width="0.35"/><circle cx="292.78" cy="419.96" r="2" fill="#ababab" stroke="#8c8c8c" stroke-width="0.35"/><circle cx="295.64" cy="419.66" r="2" fill="#ababab" stroke="#8c8c8c" stroke-width="0.35"/><circle cx="282.65" cy="394.86" r="2" fill="#ababab" stroke="#8c8c8c" stroke-width="0.35"/><circle cx="285.91" cy="394.88" r="2" fill="#ababab" stroke="#8c8c8c" stroke-width="0.35"/><circle cx="287.8" cy="395.5" r="2" fill="#ababab" stroke="#8c8c8c" stroke-width="0.35"/><circle cx="292.67" cy="395.06" r="2" fill="#ababab" stroke="#8c8c8c" stroke-width="0.35"/><circle cx="295.18" cy="395.69" r="2" fill="#ababab" stroke="#8c8c8c" stroke-width="0.35"/><circle cx="298.04" cy="395.55" r="2" fill="#ababab" stroke="#8c8c8c" stroke-width="0.35"/><circle cx="297.87" cy="399.66" r="2" fill="#ababab" stroke="#8c8c8c" stroke-width="0.35"/><circle cx="299.47" cy="403.71" r="2" fill="#ababab" stroke="#8c8c8c" stroke-width="0.35"/><circle cx="298.25" cy="406.19" r="2" fill="#ababab" stroke="#8c8c8c" stroke-width="0.35"/><circle cx="298.86" cy="409.87" r="2" fill="#ababab" stroke="#8c8c8c" stroke-width="0.35"/><circle cx="299" cy="413.43" r="2" fill="#ababab" stroke="#8c8c8c" stroke-width="0.35"/><circle cx="297.28" cy="416.75" r="2" fill="#ababab" stroke="#8c8c8c" stroke-width="0.35"/><circle cx="296.28" cy="421.57" r="2" fill="#ababab" stroke="#8c8c8c" stroke-width="0.35"/><circle cx="292.93" cy="421.33" r="2" fill="#ababab" stroke="#8c8c8c" stroke-width="0.35"/><circle cx="289.56" cy="421.3" r="2" fill="#ababab" stroke="#8c8c8c" stroke-width="0.35"/><circle cx="286.16" cy="420.56" r="2" fill="#ababab" stroke="#8c8c8c" stroke-width="0.35"/><circle cx="282.34" cy="418.41" r="2" fill="#ababab" stroke="#8c8c8c" stroke-width="0.35"/><circle cx="282.42" cy="413.2" r="2" fill="#ababab" stroke="#8c8c8c" stroke-width="0.35"/><circle cx="281.76" cy="410.2" r="2" fill="#ababab" stroke="#8c8c8c" stroke-width="0.35"/><circle cx="281.77" cy="406.5" r="2" fill="#ababab" stroke="#8c8c8c" stroke-width="0.35"/><circle cx="282.68" cy="401.79" r="2" fill="#ababab" stroke="#8c8c8c" stroke-width="0.35"/><circle cx="282.57" cy="398.75" r="2" fill="#ababab" stroke="#8c8c8c" stroke-width="0.35"/></g>
<g><circle cx="284.8" cy="424.1" r="1.7" fill="#fff" stroke="#8a8a8a" stroke-width="0.6"/><circle cx="296.6" cy="424.1" r="1.7" fill="#fff" stroke="#8a8a8a" stroke-width="0.6"/><circle cx="287.5" cy="423.5" r="1.7" fill="#fff" stroke="#8a8a8a" stroke-width="0.6"/><circle cx="293.5" cy="423" r="1.7" fill="#fff" stroke="#8a8a8a" stroke-width="0.6"/><circle cx="290.3" cy="427.4" r="1.7" fill="#fff" stroke="#8a8a8a" stroke-width="0.6"/><circle cx="289.3" cy="431.4" r="1.7" fill="#fff" stroke="#8a8a8a" stroke-width="0.6"/><circle cx="293" cy="431.3" r="1.7" fill="#fff" stroke="#8a8a8a" stroke-width="0.6"/><circle cx="290.5" cy="433.3" r="1.7" fill="#fff" stroke="#8a8a8a" stroke-width="0.6"/><circle cx="292.6" cy="434.4" r="1.7" fill="#fff" stroke="#8a8a8a" stroke-width="0.6"/><circle cx="288.5" cy="440" r="1.7" fill="#fff" stroke="#8a8a8a" stroke-width="0.6"/></g>
<g><circle cx="282.5" cy="394.4" r="2" fill="#e3161c"/><circle cx="284.6" cy="394.4" r="2" fill="#3a7dc0"/><circle cx="286.7" cy="394.4" r="2" fill="#3a7dc0"/><circle cx="288.8" cy="394.4" r="2" fill="#ababab" stroke="#8c8c8c" stroke-width="0.35"/><circle cx="290.9" cy="394.4" r="2" fill="#e3161c"/><circle cx="293" cy="394.4" r="2" fill="#3a7dc0"/><circle cx="295.2" cy="394.4" r="2" fill="#ababab" stroke="#8c8c8c" stroke-width="0.35"/><circle cx="297.3" cy="394.4" r="2" fill="#ababab" stroke="#8c8c8c" stroke-width="0.35"/></g>
<g><circle cx="292.5" cy="403" r="2" fill="#3a7dc0"/><circle cx="283.3" cy="404.7" r="2" fill="#3a7dc0"/><circle cx="290" cy="408" r="2" fill="#3a7dc0"/><circle cx="294" cy="410" r="2" fill="#3a7dc0"/><circle cx="288.5" cy="412.5" r="2" fill="#3a7dc0"/><circle cx="292.2" cy="414.2" r="2" fill="#3a7dc0"/><circle cx="296" cy="415.6" r="2" fill="#3a7dc0"/><circle cx="294.5" cy="417.2" r="2" fill="#3a7dc0"/><circle cx="286" cy="410" r="2" fill="#3a7dc0"/><circle cx="289.5" cy="405.5" r="2" fill="#3a7dc0"/><circle cx="283.5" cy="407" r="2" fill="#e3161c"/><circle cx="294.5" cy="406.5" r="2" fill="#e3161c"/><circle cx="285" cy="413" r="2" fill="#e3161c"/><circle cx="291" cy="415.5" r="2" fill="#e3161c"/><circle cx="287" cy="417" r="2" fill="#e3161c"/><circle cx="289.6" cy="419.8" r="2" fill="#e3161c"/><circle cx="292.3" cy="421" r="2" fill="#e3161c"/><circle cx="283.5" cy="425.8" r="2" fill="#e3161c"/><circle cx="294.5" cy="425.2" r="2" fill="#e3161c"/><circle cx="286.7" cy="428.5" r="2" fill="#e3161c"/><circle cx="288" cy="409.5" r="2" fill="#e3161c"/></g>
<circle cx="286.8" cy="398.3" r="2" fill="#e3161c"/>
<circle cx="287.2" cy="400.9" r="2.2" fill="#000"/>
<circle cx="294.3" cy="440" r="2" fill="#e3161c"/>
<circle cx="290.5" cy="466.6" r="2" fill="#3a7dc0"/>
<circle cx="291.2" cy="473.4" r="1.7" fill="#fff" stroke="#8a8a8a" stroke-width="0.6"/>
<circle cx="281.7" cy="485.3" r="2" fill="#e3161c"/>
<g stroke="#4daf4a" fill="none">
<rect x="262.3" y="404.5" width="54.8" height="10.1" stroke-width="0.8"/>
<line x1="262.3" y1="409.8" x2="317.1" y2="409.8" stroke-width="1.6"/>
<line x1="289.5" y1="394.4" x2="289.5" y2="429.4" stroke-width="0.8"/>
<line x1="273.1" y1="394.4" x2="306" y2="394.4" stroke-width="0.8"/>
<line x1="273.1" y1="429.4" x2="306" y2="429.4" stroke-width="0.8"/>
</g>
<text x="600.4" y="373.5" font-size="16.5" text-anchor="start" font-weight="bold" fill="#000" >h</text>
<text x="648.15" y="378.4" font-size="12.4" text-anchor="middle" fill="#000" >Ratio</text>
<rect x="612.6" y="381.9" width="71.3" height="156.3" fill="none" stroke="#777" stroke-width="0.9"/>
<line x1="610.4" y1="394.2" x2="612.6" y2="394.2" stroke="#777" stroke-width="0.8"/>
<text x="605" y="394.2" font-size="6.4" text-anchor="middle" transform="rotate(-90 605 394.2)" dominant-baseline="central">1</text>
<line x1="610.4" y1="456.8" x2="612.6" y2="456.8" stroke="#777" stroke-width="0.8"/>
<text x="605" y="456.8" font-size="6.4" text-anchor="middle" transform="rotate(-90 605 456.8)" dominant-baseline="central">0.5</text>
<line x1="610.4" y1="519.4" x2="612.6" y2="519.4" stroke="#777" stroke-width="0.8"/>
<text x="605" y="519.4" font-size="6.4" text-anchor="middle" transform="rotate(-90 605 519.4)" dominant-baseline="central">0</text>
<circle cx="617.6" cy="530.3" r="2.2" fill="#000"/>
<text x="623.8" y="532.5" font-size="6.3" text-anchor="start" fill="#000" >TCGA-BA-6871-01A</text>
<circle cx="638.5" cy="394.8" r="1.7" fill="#fff" stroke="#8a8a8a" stroke-width="0.6"/><circle cx="659" cy="395.2" r="1.7" fill="#fff" stroke="#8a8a8a" stroke-width="0.6"/><circle cx="643.4" cy="404.8" r="1.7" fill="#fff" stroke="#8a8a8a" stroke-width="0.6"/><circle cx="647.1" cy="406" r="1.7" fill="#fff" stroke="#8a8a8a" stroke-width="0.6"/><circle cx="650.2" cy="405.4" r="1.7" fill="#fff" stroke="#8a8a8a" stroke-width="0.6"/><circle cx="652.7" cy="405.4" r="1.7" fill="#fff" stroke="#8a8a8a" stroke-width="0.6"/><circle cx="650.9" cy="408.5" r="1.7" fill="#fff" stroke="#8a8a8a" stroke-width="0.6"/><circle cx="650.6" cy="411" r="1.7" fill="#fff" stroke="#8a8a8a" stroke-width="0.6"/><circle cx="645.9" cy="422.1" r="1.7" fill="#fff" stroke="#8a8a8a" stroke-width="0.6"/><circle cx="651.6" cy="447.9" r="1.7" fill="#fff" stroke="#8a8a8a" stroke-width="0.6"/>
<circle cx="640.5" cy="394.3" r="2" fill="#ababab" stroke="#8c8c8c" stroke-width="0.35"/><circle cx="642.5" cy="394.2" r="2" fill="#ababab" stroke="#8c8c8c" stroke-width="0.35"/><circle cx="644.5" cy="394.3" r="2" fill="#ababab" stroke="#8c8c8c" stroke-width="0.35"/><circle cx="646.5" cy="394.2" r="2" fill="#ababab" stroke="#8c8c8c" stroke-width="0.35"/><circle cx="648.5" cy="394.3" r="2" fill="#ababab" stroke="#8c8c8c" stroke-width="0.35"/><circle cx="650.5" cy="394.2" r="2" fill="#ababab" stroke="#8c8c8c" stroke-width="0.35"/><circle cx="652.5" cy="394.3" r="2" fill="#ababab" stroke="#8c8c8c" stroke-width="0.35"/><circle cx="654.5" cy="394.2" r="2" fill="#ababab" stroke="#8c8c8c" stroke-width="0.35"/><circle cx="656.5" cy="394.3" r="2" fill="#ababab" stroke="#8c8c8c" stroke-width="0.35"/><circle cx="641.5" cy="396.5" r="2" fill="#ababab" stroke="#8c8c8c" stroke-width="0.35"/><circle cx="657.5" cy="396.8" r="2" fill="#ababab" stroke="#8c8c8c" stroke-width="0.35"/><circle cx="655.5" cy="398.5" r="2" fill="#ababab" stroke="#8c8c8c" stroke-width="0.35"/><circle cx="643" cy="398.6" r="2" fill="#ababab" stroke="#8c8c8c" stroke-width="0.35"/><circle cx="649" cy="399.5" r="2" fill="#ababab" stroke="#8c8c8c" stroke-width="0.35"/>
<circle cx="643.5" cy="395.5" r="2" fill="#3a7dc0"/><circle cx="645.5" cy="395" r="2" fill="#3a7dc0"/><circle cx="647.5" cy="395.5" r="2" fill="#3a7dc0"/><circle cx="649.5" cy="395" r="2" fill="#3a7dc0"/><circle cx="651.5" cy="395.5" r="2" fill="#3a7dc0"/><circle cx="653.5" cy="395" r="2" fill="#3a7dc0"/><circle cx="646.5" cy="397.3" r="2" fill="#3a7dc0"/><circle cx="648.5" cy="397.6" r="2" fill="#3a7dc0"/><circle cx="650.5" cy="397.3" r="2" fill="#3a7dc0"/><circle cx="652.5" cy="397.6" r="2" fill="#3a7dc0"/><circle cx="644.5" cy="397.8" r="2" fill="#3a7dc0"/><circle cx="654.5" cy="397.5" r="2" fill="#3a7dc0"/><circle cx="647.5" cy="399.6" r="2" fill="#3a7dc0"/><circle cx="651.5" cy="399.4" r="2" fill="#3a7dc0"/>
<circle cx="640.8" cy="395.4" r="2" fill="#e3161c"/>
<circle cx="655.8" cy="395.6" r="2" fill="#e3161c"/>
<circle cx="641" cy="401" r="2" fill="#e3161c"/>
<circle cx="645.3" cy="401" r="2" fill="#e3161c"/>
<circle cx="642.2" cy="400.4" r="2" fill="#3a7dc0"/>
<circle cx="653.3" cy="401" r="2" fill="#3a7dc0"/>
<circle cx="649.5" cy="400.8" r="2" fill="#ababab" stroke="#8c8c8c" stroke-width="0.35"/>
<circle cx="645.3" cy="411" r="2" fill="#e3161c"/>
<circle cx="647.1" cy="414.1" r="2" fill="#3a7dc0"/>
<circle cx="648.8" cy="421.5" r="2" fill="#e3161c"/>
<circle cx="644.9" cy="428.1" r="2" fill="#e3161c"/>
<circle cx="652" cy="469.7" r="2" fill="#3a7dc0"/>
<circle cx="647.5" cy="471" r="2.2" fill="#000"/>
<circle cx="649.9" cy="477.8" r="2" fill="#e3161c"/>
<circle cx="647.5" cy="486" r="2" fill="#e3161c"/>
<circle cx="649.2" cy="513.3" r="2" fill="#e3161c"/>
<g stroke="#4daf4a" fill="none">
<rect x="620.5" y="394.2" width="55.2" height="4.1" stroke-width="0.8"/>
<line x1="620.5" y1="396.7" x2="675.7" y2="396.7" stroke-width="1.5"/>
<line x1="648.4" y1="398.3" x2="648.4" y2="403.9" stroke-width="0.8"/>
<line x1="632" y1="403.9" x2="664.8" y2="403.9" stroke-width="0.9" stroke="#8fcf8f"/>
</g>
</svg>
</body></html>
